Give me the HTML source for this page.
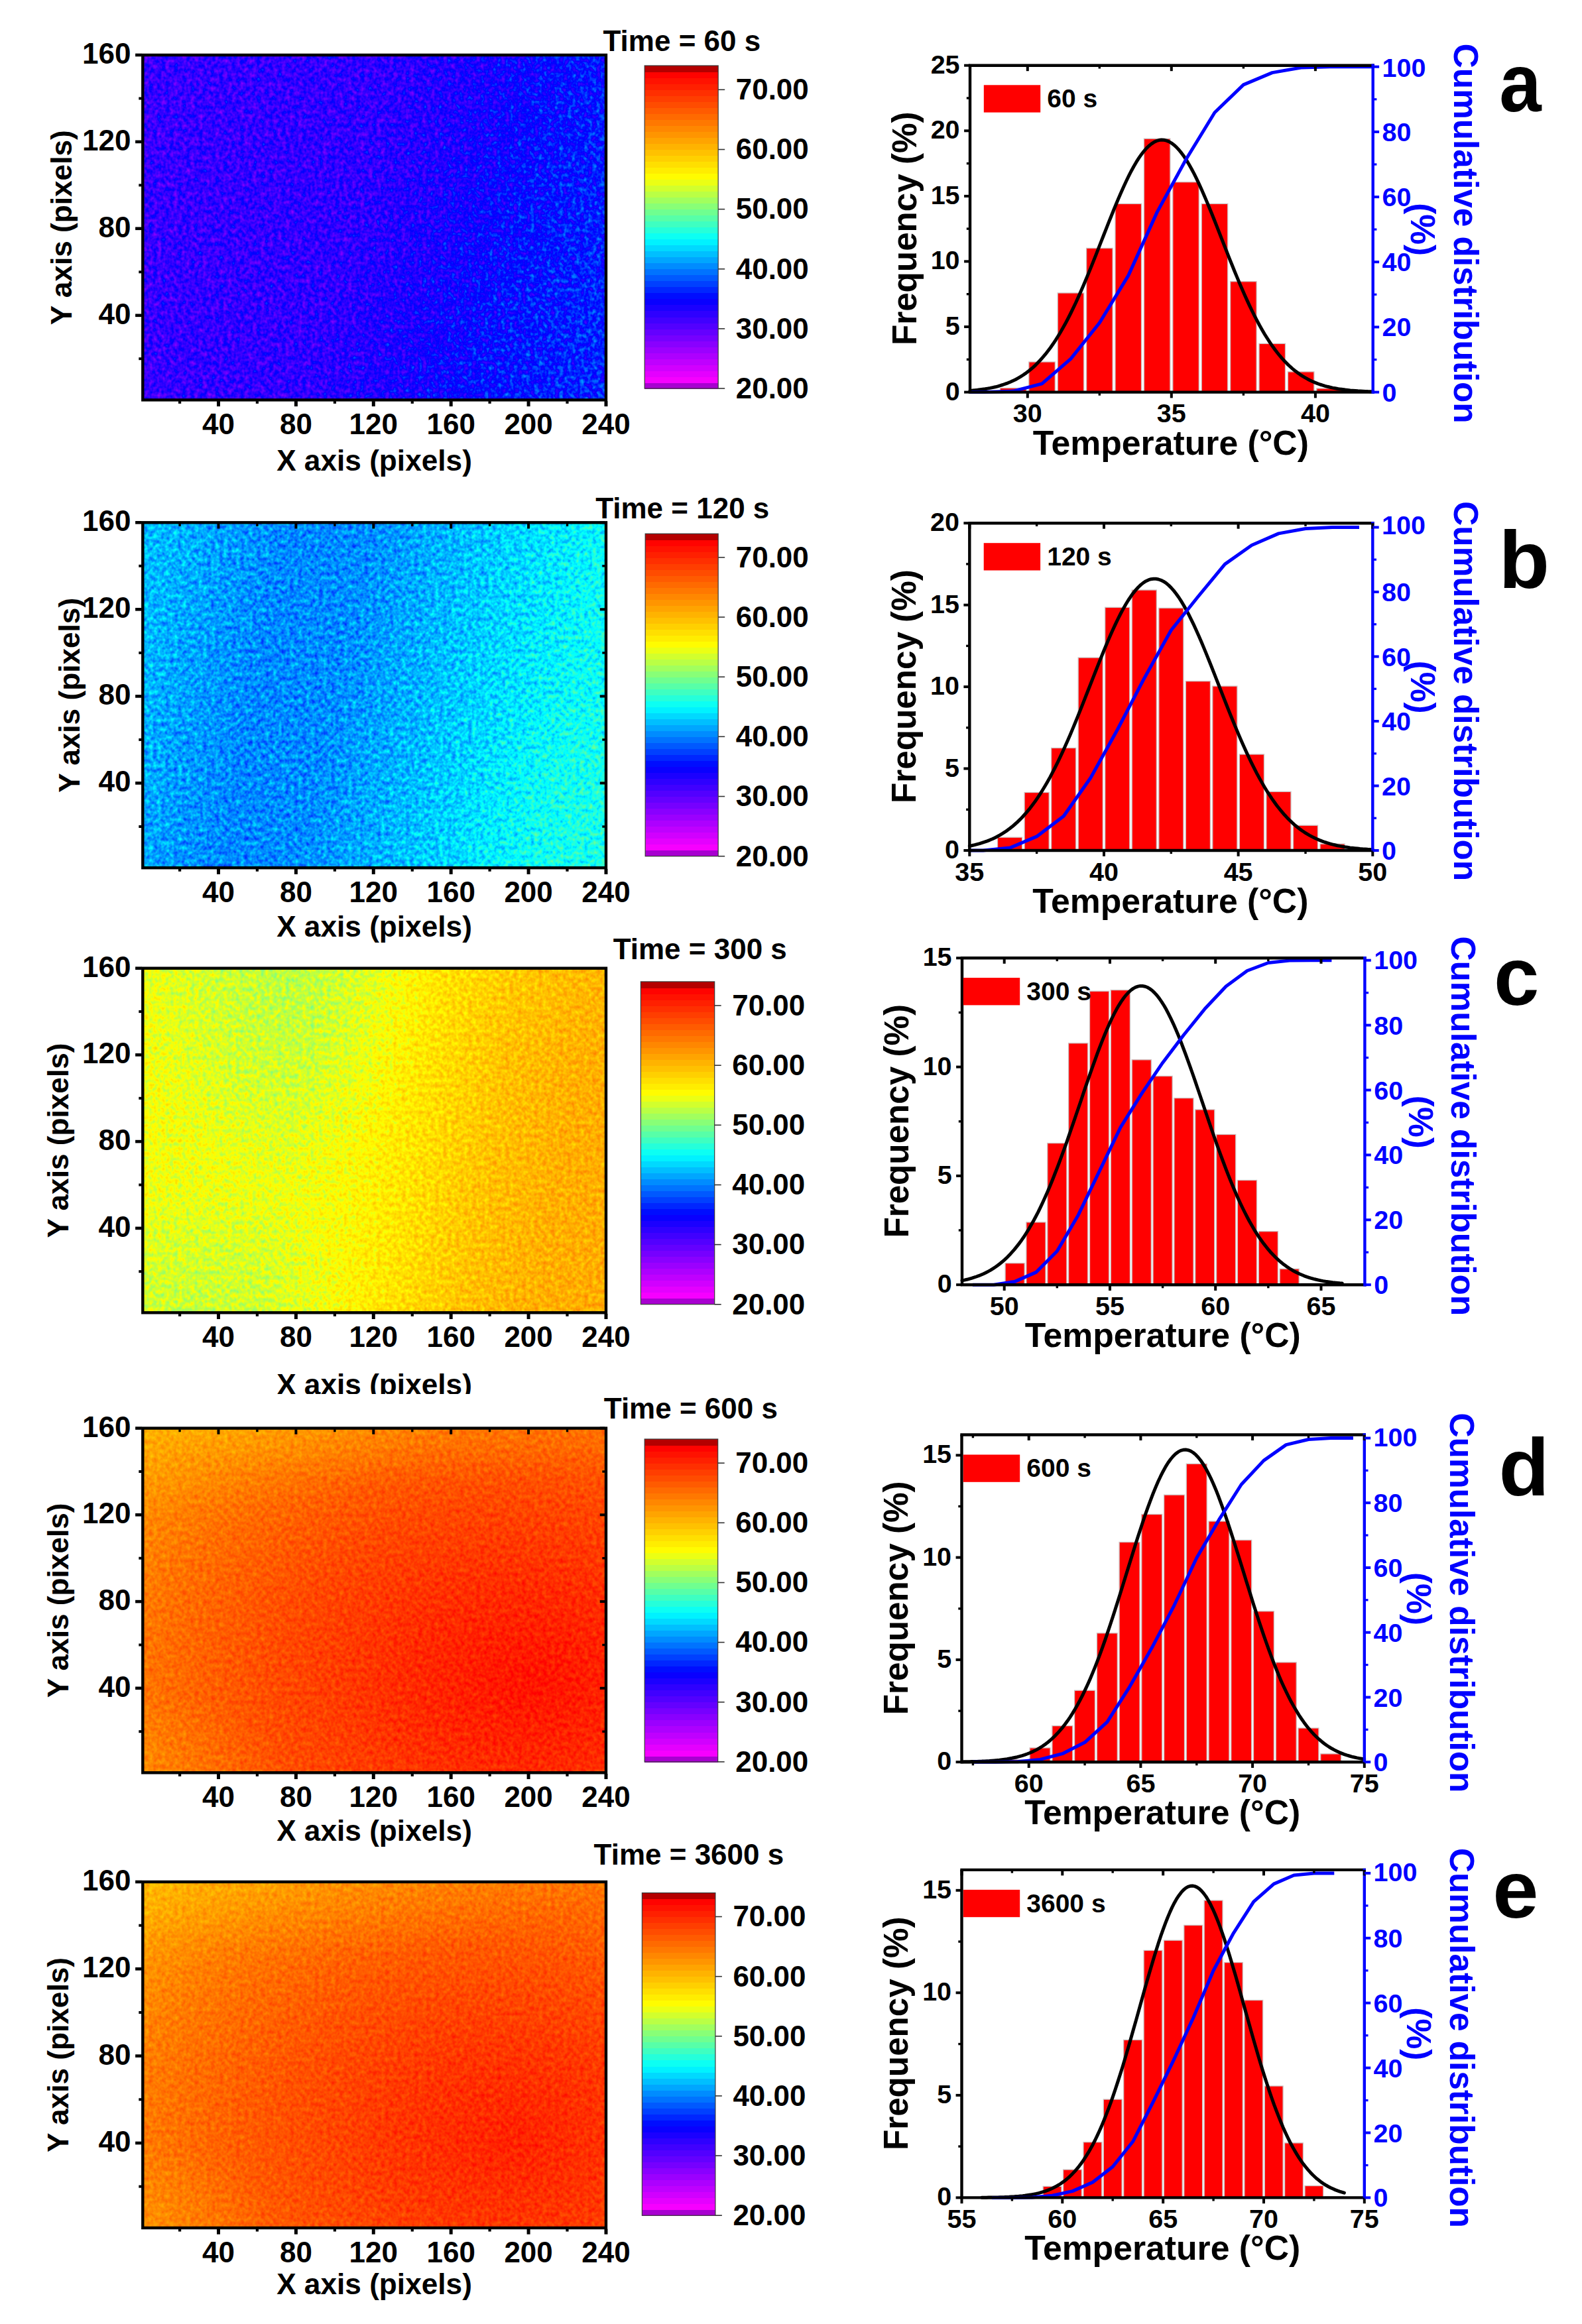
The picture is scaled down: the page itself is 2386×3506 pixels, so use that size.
<!DOCTYPE html>
<html lang="en"><head><meta charset="utf-8"><title>Temperature distribution maps and histograms</title>
<style>html,body{margin:0;padding:0;background:#fff}body{width:2386px;height:3506px;overflow:hidden}svg{display:block}text{font-family:'Liberation Sans', Arial, Helvetica, sans-serif;font-weight:700}</style></head><body>
<svg width="2386" height="3506" viewBox="0 0 2386 3506">
<rect width="2386" height="3506" fill="#fff"/>
<g id="heat0">
<defs>
<linearGradient id="hg0" x1="0" y1="0.400" x2="1" y2="0.600">
<stop offset="0%" stop-color="rgb(57,57,57)"/>
<stop offset="45%" stop-color="rgb(59,59,59)"/>
<stop offset="62%" stop-color="rgb(64,64,64)"/>
<stop offset="80%" stop-color="rgb(72,72,72)"/>
<stop offset="100%" stop-color="rgb(77,77,77)"/>
</linearGradient>
<filter id="hf0" x="215.3" y="83" width="698.7" height="520.4" filterUnits="userSpaceOnUse" color-interpolation-filters="sRGB">
<feTurbulence type="fractalNoise" baseFrequency="0.16 0.145" numOctaves="2" seed="3" result="n"/>
<feColorMatrix in="n" type="matrix" values="1 0 0 0 0  1 0 0 0 0  1 0 0 0 0  0 0 0 0 1" result="ng"/>
<feComposite in="SourceGraphic" in2="ng" operator="arithmetic" k1="0" k2="1" k3="0.2363" k4="-0.1181" result="v"/>
<feComponentTransfer in="v">
<feFuncR type="table" tableValues="1.000 1.000 1.000 0.965 0.929 0.894 0.859 0.820 0.784 0.749 0.714 0.678 0.643 0.608 0.573 0.537 0.502 0.463 0.427 0.392 0.357 0.322 0.286 0.251 0.216 0.180 0.141 0.106 0.071 0.035 0.000 0.000 0.000 0.000 0.000 0.000 0.000 0.000 0.000 0.000 0.000 0.000 0.000 0.000 0.000 0.000 0.000 0.000 0.000 0.000 0.000 0.047 0.098 0.145 0.196 0.243 0.290 0.341 0.388 0.435 0.486 0.533 0.584 0.631 0.678 0.729 0.776 0.824 0.875 0.922 0.973 1.000 1.000 1.000 1.000 1.000 1.000 1.000 1.000 1.000 1.000 1.000 1.000 1.000 1.000 1.000 1.000 1.000 1.000 1.000 1.000 1.000 1.000 1.000 1.000 1.000 1.000 1.000 1.000 1.000 1.000 1.000 1.000 1.000 1.000 1.000 1.000 1.000 1.000"/>
<feFuncG type="table" tableValues="0.000 0.000 0.000 0.000 0.000 0.000 0.000 0.000 0.000 0.000 0.000 0.000 0.000 0.000 0.000 0.000 0.000 0.000 0.000 0.000 0.000 0.000 0.000 0.000 0.000 0.000 0.000 0.000 0.000 0.000 0.000 0.051 0.102 0.149 0.200 0.251 0.298 0.349 0.400 0.451 0.502 0.549 0.600 0.651 0.698 0.749 0.800 0.851 0.902 0.949 1.000 1.000 1.000 1.000 1.000 1.000 1.000 1.000 1.000 1.000 1.000 1.000 1.000 1.000 1.000 1.000 1.000 1.000 1.000 1.000 1.000 0.988 0.961 0.929 0.902 0.875 0.843 0.816 0.788 0.757 0.729 0.702 0.671 0.643 0.616 0.584 0.557 0.529 0.502 0.471 0.443 0.416 0.384 0.357 0.329 0.298 0.271 0.243 0.212 0.184 0.157 0.125 0.098 0.071 0.039 0.012 0.000 0.000 0.000"/>
<feFuncB type="table" tableValues="1.000 1.000 1.000 1.000 1.000 1.000 1.000 1.000 1.000 1.000 1.000 1.000 1.000 1.000 1.000 1.000 1.000 1.000 1.000 1.000 1.000 1.000 1.000 1.000 1.000 1.000 1.000 1.000 1.000 1.000 1.000 1.000 1.000 1.000 1.000 1.000 1.000 1.000 1.000 1.000 1.000 1.000 1.000 1.000 1.000 1.000 1.000 1.000 1.000 1.000 1.000 0.953 0.902 0.855 0.804 0.757 0.710 0.659 0.612 0.565 0.514 0.467 0.416 0.369 0.322 0.271 0.224 0.176 0.125 0.078 0.027 0.000 0.000 0.000 0.000 0.000 0.000 0.000 0.000 0.000 0.000 0.000 0.000 0.000 0.000 0.000 0.000 0.000 0.000 0.000 0.000 0.000 0.000 0.000 0.000 0.000 0.000 0.000 0.000 0.000 0.000 0.000 0.000 0.000 0.000 0.000 0.000 0.000 0.000"/>
</feComponentTransfer>
</filter>
</defs>
<g filter="url(#hf0)">
<rect x="215.3" y="83" width="698.7" height="520.4" fill="url(#hg0)"/>
</g>
<rect x="215.3" y="83" width="698.7" height="520.4" fill="none" stroke="#000" stroke-width="4.4"/>
<line x1="271.1" y1="605.1" x2="271.1" y2="608.9" stroke="#000" stroke-width="4.2" stroke-linecap="butt"/>
<line x1="329.5" y1="605.1" x2="329.5" y2="613.1" stroke="#000" stroke-width="5" stroke-linecap="butt"/>
<line x1="387.9" y1="605.1" x2="387.9" y2="608.9" stroke="#000" stroke-width="4.2" stroke-linecap="butt"/>
<line x1="446.4" y1="605.1" x2="446.4" y2="613.1" stroke="#000" stroke-width="5" stroke-linecap="butt"/>
<line x1="504.9" y1="605.1" x2="504.9" y2="608.9" stroke="#000" stroke-width="4.2" stroke-linecap="butt"/>
<line x1="563.3" y1="605.1" x2="563.3" y2="613.1" stroke="#000" stroke-width="5" stroke-linecap="butt"/>
<line x1="621.8" y1="605.1" x2="621.8" y2="608.9" stroke="#000" stroke-width="4.2" stroke-linecap="butt"/>
<line x1="680.2" y1="605.1" x2="680.2" y2="613.1" stroke="#000" stroke-width="5" stroke-linecap="butt"/>
<line x1="738.6" y1="605.1" x2="738.6" y2="608.9" stroke="#000" stroke-width="4.2" stroke-linecap="butt"/>
<line x1="797.1" y1="605.1" x2="797.1" y2="613.1" stroke="#000" stroke-width="5" stroke-linecap="butt"/>
<line x1="855.5" y1="605.1" x2="855.5" y2="608.9" stroke="#000" stroke-width="4.2" stroke-linecap="butt"/>
<line x1="914" y1="605.1" x2="914" y2="613.1" stroke="#000" stroke-width="5" stroke-linecap="butt"/>
<line x1="213.6" y1="541.2" x2="209.3" y2="541.2" stroke="#000" stroke-width="4" stroke-linecap="butt"/>
<line x1="213.6" y1="475.8" x2="204.1" y2="475.8" stroke="#000" stroke-width="4.6" stroke-linecap="butt"/>
<line x1="213.6" y1="410.3" x2="209.3" y2="410.3" stroke="#000" stroke-width="4" stroke-linecap="butt"/>
<line x1="213.6" y1="344.8" x2="204.1" y2="344.8" stroke="#000" stroke-width="4.6" stroke-linecap="butt"/>
<line x1="213.6" y1="279.4" x2="209.3" y2="279.4" stroke="#000" stroke-width="4" stroke-linecap="butt"/>
<line x1="213.6" y1="213.9" x2="204.1" y2="213.9" stroke="#000" stroke-width="4.6" stroke-linecap="butt"/>
<line x1="213.6" y1="148.5" x2="209.3" y2="148.5" stroke="#000" stroke-width="4" stroke-linecap="butt"/>
<line x1="213.6" y1="83" x2="204.1" y2="83" stroke="#000" stroke-width="4.6" stroke-linecap="butt"/>
<text font-size="44" text-anchor="middle" fill="#000" x="329.5" y="654.9" >40</text>
<text font-size="44" text-anchor="middle" fill="#000" x="446.4" y="654.9" >80</text>
<text font-size="44" text-anchor="middle" fill="#000" x="563.3" y="654.9" >120</text>
<text font-size="44" text-anchor="middle" fill="#000" x="680.2" y="654.9" >160</text>
<text font-size="44" text-anchor="middle" fill="#000" x="797.1" y="654.9" >200</text>
<text font-size="44" text-anchor="middle" fill="#000" x="914" y="654.9" >240</text>
<text font-size="44" text-anchor="end" fill="#000" x="197.5" y="488.7" >40</text>
<text font-size="44" text-anchor="end" fill="#000" x="197.5" y="357.7" >80</text>
<text font-size="44" text-anchor="end" fill="#000" x="197.5" y="226.8" >120</text>
<text font-size="44" text-anchor="end" fill="#000" x="197.5" y="95.9" >160</text>
<text font-size="44.2" text-anchor="middle" fill="#000" x="564.5" y="710.2" >X axis (pixels)</text>
<text font-size="44.2" text-anchor="middle" fill="#000" x="108" y="343.2" transform="rotate(-90 108 343.2)" >Y axis (pixels)</text>
<text font-size="44" text-anchor="start" fill="#000" x="909.5" y="77.4" >Time = 60 s</text>
<g shape-rendering="crispEdges">
<rect x="972.2" y="577" width="111" height="9.6" fill="rgb(168,0,208)"/>
<rect x="972.2" y="568" width="111" height="9.6" fill="rgb(246,0,255)"/>
<rect x="972.2" y="559" width="111" height="9.6" fill="rgb(228,0,255)"/>
<rect x="972.2" y="550" width="111" height="9.6" fill="rgb(209,0,255)"/>
<rect x="972.2" y="541" width="111" height="9.6" fill="rgb(191,0,255)"/>
<rect x="972.2" y="532" width="111" height="9.6" fill="rgb(173,0,255)"/>
<rect x="972.2" y="522.9" width="111" height="9.6" fill="rgb(155,0,255)"/>
<rect x="972.2" y="513.9" width="111" height="9.6" fill="rgb(137,0,255)"/>
<rect x="972.2" y="504.9" width="111" height="9.6" fill="rgb(118,0,255)"/>
<rect x="972.2" y="495.9" width="111" height="9.6" fill="rgb(100,0,255)"/>
<rect x="972.2" y="486.9" width="111" height="9.6" fill="rgb(82,0,255)"/>
<rect x="972.2" y="477.9" width="111" height="9.6" fill="rgb(64,0,255)"/>
<rect x="972.2" y="468.9" width="111" height="9.6" fill="rgb(46,0,255)"/>
<rect x="972.2" y="459.8" width="111" height="9.6" fill="rgb(27,0,255)"/>
<rect x="972.2" y="450.8" width="111" height="9.6" fill="rgb(9,0,255)"/>
<rect x="972.2" y="441.8" width="111" height="9.6" fill="rgb(0,13,255)"/>
<rect x="972.2" y="432.8" width="111" height="9.6" fill="rgb(0,38,255)"/>
<rect x="972.2" y="423.8" width="111" height="9.6" fill="rgb(0,64,255)"/>
<rect x="972.2" y="414.8" width="111" height="9.6" fill="rgb(0,89,255)"/>
<rect x="972.2" y="405.8" width="111" height="9.6" fill="rgb(0,115,255)"/>
<rect x="972.2" y="396.7" width="111" height="9.6" fill="rgb(0,140,255)"/>
<rect x="972.2" y="387.7" width="111" height="9.6" fill="rgb(0,166,255)"/>
<rect x="972.2" y="378.7" width="111" height="9.6" fill="rgb(0,191,255)"/>
<rect x="972.2" y="369.7" width="111" height="9.6" fill="rgb(0,217,255)"/>
<rect x="972.2" y="360.7" width="111" height="9.6" fill="rgb(0,242,255)"/>
<rect x="972.2" y="351.7" width="111" height="9.6" fill="rgb(12,255,243)"/>
<rect x="972.2" y="342.6" width="111" height="9.6" fill="rgb(37,255,218)"/>
<rect x="972.2" y="333.6" width="111" height="9.6" fill="rgb(62,255,193)"/>
<rect x="972.2" y="324.6" width="111" height="9.6" fill="rgb(87,255,168)"/>
<rect x="972.2" y="315.6" width="111" height="9.6" fill="rgb(111,255,144)"/>
<rect x="972.2" y="306.6" width="111" height="9.6" fill="rgb(136,255,119)"/>
<rect x="972.2" y="297.6" width="111" height="9.6" fill="rgb(161,255,94)"/>
<rect x="972.2" y="288.6" width="111" height="9.6" fill="rgb(186,255,69)"/>
<rect x="972.2" y="279.5" width="111" height="9.6" fill="rgb(210,255,45)"/>
<rect x="972.2" y="270.5" width="111" height="9.6" fill="rgb(235,255,20)"/>
<rect x="972.2" y="261.5" width="111" height="9.6" fill="rgb(255,252,0)"/>
<rect x="972.2" y="252.5" width="111" height="9.6" fill="rgb(255,237,0)"/>
<rect x="972.2" y="243.5" width="111" height="9.6" fill="rgb(255,223,0)"/>
<rect x="972.2" y="234.5" width="111" height="9.6" fill="rgb(255,208,0)"/>
<rect x="972.2" y="225.5" width="111" height="9.6" fill="rgb(255,193,0)"/>
<rect x="972.2" y="216.4" width="111" height="9.6" fill="rgb(255,179,0)"/>
<rect x="972.2" y="207.4" width="111" height="9.6" fill="rgb(255,164,0)"/>
<rect x="972.2" y="198.4" width="111" height="9.6" fill="rgb(255,149,0)"/>
<rect x="972.2" y="189.4" width="111" height="9.6" fill="rgb(255,135,0)"/>
<rect x="972.2" y="180.4" width="111" height="9.6" fill="rgb(255,120,0)"/>
<rect x="972.2" y="171.4" width="111" height="9.6" fill="rgb(255,106,0)"/>
<rect x="972.2" y="162.3" width="111" height="9.6" fill="rgb(255,91,0)"/>
<rect x="972.2" y="153.3" width="111" height="9.6" fill="rgb(255,76,0)"/>
<rect x="972.2" y="144.3" width="111" height="9.6" fill="rgb(255,62,0)"/>
<rect x="972.2" y="135.3" width="111" height="9.6" fill="rgb(255,47,0)"/>
<rect x="972.2" y="126.3" width="111" height="9.6" fill="rgb(255,32,0)"/>
<rect x="972.2" y="117.3" width="111" height="9.6" fill="rgb(255,18,0)"/>
<rect x="972.2" y="108.3" width="111" height="9.6" fill="rgb(255,3,0)"/>
<rect x="972.2" y="99.2" width="111" height="9.6" fill="rgb(180,0,0)"/>
</g>
<rect x="972.2" y="99" width="111" height="487" fill="none" stroke="#3a3a3a" stroke-width="1.2"/>
<line x1="1083.2" y1="586" x2="1093.2" y2="586" stroke="#333" stroke-width="1.6" stroke-linecap="butt"/>
<text font-size="44" text-anchor="start" fill="#000" x="1109.7" y="600.8" >20.00</text>
<line x1="1083.2" y1="495.9" x2="1093.2" y2="495.9" stroke="#333" stroke-width="1.6" stroke-linecap="butt"/>
<text font-size="44" text-anchor="start" fill="#000" x="1109.7" y="510.7" >30.00</text>
<line x1="1083.2" y1="405.8" x2="1093.2" y2="405.8" stroke="#333" stroke-width="1.6" stroke-linecap="butt"/>
<text font-size="44" text-anchor="start" fill="#000" x="1109.7" y="420.6" >40.00</text>
<line x1="1083.2" y1="315.6" x2="1093.2" y2="315.6" stroke="#333" stroke-width="1.6" stroke-linecap="butt"/>
<text font-size="44" text-anchor="start" fill="#000" x="1109.7" y="330.4" >50.00</text>
<line x1="1083.2" y1="225.5" x2="1093.2" y2="225.5" stroke="#333" stroke-width="1.6" stroke-linecap="butt"/>
<text font-size="44" text-anchor="start" fill="#000" x="1109.7" y="240.3" >60.00</text>
<line x1="1083.2" y1="135.3" x2="1093.2" y2="135.3" stroke="#333" stroke-width="1.6" stroke-linecap="butt"/>
<text font-size="44" text-anchor="start" fill="#000" x="1109.7" y="150.1" >70.00</text>
</g>
<g id="heat1">
<defs>
<linearGradient id="hg1" x1="0" y1="0.420" x2="1" y2="0.580">
<stop offset="0%" stop-color="rgb(105,105,105)"/>
<stop offset="10%" stop-color="rgb(101,101,101)"/>
<stop offset="25%" stop-color="rgb(96,96,96)"/>
<stop offset="42%" stop-color="rgb(97,97,97)"/>
<stop offset="60%" stop-color="rgb(105,105,105)"/>
<stop offset="78%" stop-color="rgb(113,113,113)"/>
<stop offset="92%" stop-color="rgb(119,119,119)"/>
<stop offset="100%" stop-color="rgb(120,120,120)"/>
</linearGradient>
<filter id="hf1" x="215.3" y="788.3" width="698.7" height="520.9" filterUnits="userSpaceOnUse" color-interpolation-filters="sRGB">
<feTurbulence type="fractalNoise" baseFrequency="0.16 0.145" numOctaves="2" seed="11" result="n"/>
<feColorMatrix in="n" type="matrix" values="1 0 0 0 0  1 0 0 0 0  1 0 0 0 0  0 0 0 0 1" result="ng"/>
<feComposite in="SourceGraphic" in2="ng" operator="arithmetic" k1="0" k2="1" k3="0.1874" k4="-0.0937" result="v"/>
<feComponentTransfer in="v">
<feFuncR type="table" tableValues="1.000 1.000 1.000 0.965 0.929 0.894 0.859 0.820 0.784 0.749 0.714 0.678 0.643 0.608 0.573 0.537 0.502 0.463 0.427 0.392 0.357 0.322 0.286 0.251 0.216 0.180 0.141 0.106 0.071 0.035 0.000 0.000 0.000 0.000 0.000 0.000 0.000 0.000 0.000 0.000 0.000 0.000 0.000 0.000 0.000 0.000 0.000 0.000 0.000 0.000 0.000 0.047 0.098 0.145 0.196 0.243 0.290 0.341 0.388 0.435 0.486 0.533 0.584 0.631 0.678 0.729 0.776 0.824 0.875 0.922 0.973 1.000 1.000 1.000 1.000 1.000 1.000 1.000 1.000 1.000 1.000 1.000 1.000 1.000 1.000 1.000 1.000 1.000 1.000 1.000 1.000 1.000 1.000 1.000 1.000 1.000 1.000 1.000 1.000 1.000 1.000 1.000 1.000 1.000 1.000 1.000 1.000 1.000 1.000"/>
<feFuncG type="table" tableValues="0.000 0.000 0.000 0.000 0.000 0.000 0.000 0.000 0.000 0.000 0.000 0.000 0.000 0.000 0.000 0.000 0.000 0.000 0.000 0.000 0.000 0.000 0.000 0.000 0.000 0.000 0.000 0.000 0.000 0.000 0.000 0.051 0.102 0.149 0.200 0.251 0.298 0.349 0.400 0.451 0.502 0.549 0.600 0.651 0.698 0.749 0.800 0.851 0.902 0.949 1.000 1.000 1.000 1.000 1.000 1.000 1.000 1.000 1.000 1.000 1.000 1.000 1.000 1.000 1.000 1.000 1.000 1.000 1.000 1.000 1.000 0.988 0.961 0.929 0.902 0.875 0.843 0.816 0.788 0.757 0.729 0.702 0.671 0.643 0.616 0.584 0.557 0.529 0.502 0.471 0.443 0.416 0.384 0.357 0.329 0.298 0.271 0.243 0.212 0.184 0.157 0.125 0.098 0.071 0.039 0.012 0.000 0.000 0.000"/>
<feFuncB type="table" tableValues="1.000 1.000 1.000 1.000 1.000 1.000 1.000 1.000 1.000 1.000 1.000 1.000 1.000 1.000 1.000 1.000 1.000 1.000 1.000 1.000 1.000 1.000 1.000 1.000 1.000 1.000 1.000 1.000 1.000 1.000 1.000 1.000 1.000 1.000 1.000 1.000 1.000 1.000 1.000 1.000 1.000 1.000 1.000 1.000 1.000 1.000 1.000 1.000 1.000 1.000 1.000 0.953 0.902 0.855 0.804 0.757 0.710 0.659 0.612 0.565 0.514 0.467 0.416 0.369 0.322 0.271 0.224 0.176 0.125 0.078 0.027 0.000 0.000 0.000 0.000 0.000 0.000 0.000 0.000 0.000 0.000 0.000 0.000 0.000 0.000 0.000 0.000 0.000 0.000 0.000 0.000 0.000 0.000 0.000 0.000 0.000 0.000 0.000 0.000 0.000 0.000 0.000 0.000 0.000 0.000 0.000 0.000 0.000 0.000"/>
</feComponentTransfer>
</filter>
</defs>
<g filter="url(#hf1)">
<rect x="215.3" y="788.3" width="698.7" height="520.9" fill="url(#hg1)"/>
<radialGradient id="ho1_0"><stop offset="0" stop-color="#fff" stop-opacity="0.02"/><stop offset="0.55" stop-color="#fff" stop-opacity="0.011000000000000001"/><stop offset="1" stop-color="#fff" stop-opacity="0"/></radialGradient>
<clipPath id="ho1_0c"><rect x="215.3" y="788.3" width="698.7" height="520.9"/></clipPath>
<ellipse clip-path="url(#ho1_0c)" cx="879.1" cy="1231.1" rx="209.6" ry="208.4" fill="url(#ho1_0)"/>
</g>
<rect x="215.3" y="788.3" width="698.7" height="520.9" fill="none" stroke="#000" stroke-width="4.4"/>
<line x1="271.1" y1="1310.9" x2="271.1" y2="1314.7" stroke="#000" stroke-width="4.2" stroke-linecap="butt"/>
<line x1="271.1" y1="790" x2="271.1" y2="794" stroke="#000" stroke-width="3.4" stroke-linecap="butt"/>
<line x1="329.5" y1="1310.9" x2="329.5" y2="1318.9" stroke="#000" stroke-width="5" stroke-linecap="butt"/>
<line x1="329.5" y1="790" x2="329.5" y2="797.5" stroke="#000" stroke-width="4" stroke-linecap="butt"/>
<line x1="387.9" y1="1310.9" x2="387.9" y2="1314.7" stroke="#000" stroke-width="4.2" stroke-linecap="butt"/>
<line x1="387.9" y1="790" x2="387.9" y2="794" stroke="#000" stroke-width="3.4" stroke-linecap="butt"/>
<line x1="446.4" y1="1310.9" x2="446.4" y2="1318.9" stroke="#000" stroke-width="5" stroke-linecap="butt"/>
<line x1="446.4" y1="790" x2="446.4" y2="797.5" stroke="#000" stroke-width="4" stroke-linecap="butt"/>
<line x1="504.9" y1="1310.9" x2="504.9" y2="1314.7" stroke="#000" stroke-width="4.2" stroke-linecap="butt"/>
<line x1="504.9" y1="790" x2="504.9" y2="794" stroke="#000" stroke-width="3.4" stroke-linecap="butt"/>
<line x1="563.3" y1="1310.9" x2="563.3" y2="1318.9" stroke="#000" stroke-width="5" stroke-linecap="butt"/>
<line x1="563.3" y1="790" x2="563.3" y2="797.5" stroke="#000" stroke-width="4" stroke-linecap="butt"/>
<line x1="621.8" y1="1310.9" x2="621.8" y2="1314.7" stroke="#000" stroke-width="4.2" stroke-linecap="butt"/>
<line x1="621.8" y1="790" x2="621.8" y2="794" stroke="#000" stroke-width="3.4" stroke-linecap="butt"/>
<line x1="680.2" y1="1310.9" x2="680.2" y2="1318.9" stroke="#000" stroke-width="5" stroke-linecap="butt"/>
<line x1="680.2" y1="790" x2="680.2" y2="797.5" stroke="#000" stroke-width="4" stroke-linecap="butt"/>
<line x1="738.6" y1="1310.9" x2="738.6" y2="1314.7" stroke="#000" stroke-width="4.2" stroke-linecap="butt"/>
<line x1="738.6" y1="790" x2="738.6" y2="794" stroke="#000" stroke-width="3.4" stroke-linecap="butt"/>
<line x1="797.1" y1="1310.9" x2="797.1" y2="1318.9" stroke="#000" stroke-width="5" stroke-linecap="butt"/>
<line x1="797.1" y1="790" x2="797.1" y2="797.5" stroke="#000" stroke-width="4" stroke-linecap="butt"/>
<line x1="855.5" y1="1310.9" x2="855.5" y2="1314.7" stroke="#000" stroke-width="4.2" stroke-linecap="butt"/>
<line x1="855.5" y1="790" x2="855.5" y2="794" stroke="#000" stroke-width="3.4" stroke-linecap="butt"/>
<line x1="914" y1="1310.9" x2="914" y2="1318.9" stroke="#000" stroke-width="5" stroke-linecap="butt"/>
<line x1="914" y1="790" x2="914" y2="797.5" stroke="#000" stroke-width="4" stroke-linecap="butt"/>
<line x1="213.6" y1="1247" x2="209.3" y2="1247" stroke="#000" stroke-width="4" stroke-linecap="butt"/>
<line x1="912.3" y1="1247" x2="908.3" y2="1247" stroke="#000" stroke-width="3.4" stroke-linecap="butt"/>
<line x1="213.6" y1="1181.4" x2="204.1" y2="1181.4" stroke="#000" stroke-width="4.6" stroke-linecap="butt"/>
<line x1="912.3" y1="1181.4" x2="904.8" y2="1181.4" stroke="#000" stroke-width="4" stroke-linecap="butt"/>
<line x1="213.6" y1="1115.9" x2="209.3" y2="1115.9" stroke="#000" stroke-width="4" stroke-linecap="butt"/>
<line x1="912.3" y1="1115.9" x2="908.3" y2="1115.9" stroke="#000" stroke-width="3.4" stroke-linecap="butt"/>
<line x1="213.6" y1="1050.4" x2="204.1" y2="1050.4" stroke="#000" stroke-width="4.6" stroke-linecap="butt"/>
<line x1="912.3" y1="1050.4" x2="904.8" y2="1050.4" stroke="#000" stroke-width="4" stroke-linecap="butt"/>
<line x1="213.6" y1="984.9" x2="209.3" y2="984.9" stroke="#000" stroke-width="4" stroke-linecap="butt"/>
<line x1="912.3" y1="984.9" x2="908.3" y2="984.9" stroke="#000" stroke-width="3.4" stroke-linecap="butt"/>
<line x1="213.6" y1="919.3" x2="204.1" y2="919.3" stroke="#000" stroke-width="4.6" stroke-linecap="butt"/>
<line x1="912.3" y1="919.3" x2="904.8" y2="919.3" stroke="#000" stroke-width="4" stroke-linecap="butt"/>
<line x1="213.6" y1="853.8" x2="209.3" y2="853.8" stroke="#000" stroke-width="4" stroke-linecap="butt"/>
<line x1="912.3" y1="853.8" x2="908.3" y2="853.8" stroke="#000" stroke-width="3.4" stroke-linecap="butt"/>
<line x1="213.6" y1="788.3" x2="204.1" y2="788.3" stroke="#000" stroke-width="4.6" stroke-linecap="butt"/>
<line x1="912.3" y1="788.3" x2="904.8" y2="788.3" stroke="#000" stroke-width="4" stroke-linecap="butt"/>
<text font-size="44" text-anchor="middle" fill="#000" x="329.5" y="1360.7" >40</text>
<text font-size="44" text-anchor="middle" fill="#000" x="446.4" y="1360.7" >80</text>
<text font-size="44" text-anchor="middle" fill="#000" x="563.3" y="1360.7" >120</text>
<text font-size="44" text-anchor="middle" fill="#000" x="680.2" y="1360.7" >160</text>
<text font-size="44" text-anchor="middle" fill="#000" x="797.1" y="1360.7" >200</text>
<text font-size="44" text-anchor="middle" fill="#000" x="914" y="1360.7" >240</text>
<text font-size="44" text-anchor="end" fill="#000" x="197.5" y="1194.3" >40</text>
<text font-size="44" text-anchor="end" fill="#000" x="197.5" y="1063.3" >80</text>
<text font-size="44" text-anchor="end" fill="#000" x="197.5" y="932.2" >120</text>
<text font-size="44" text-anchor="end" fill="#000" x="197.5" y="801.2" >160</text>
<text font-size="44.2" text-anchor="middle" fill="#000" x="564.5" y="1413" >X axis (pixels)</text>
<text font-size="44.2" text-anchor="middle" fill="#000" x="120.5" y="1048.8" transform="rotate(-90 120.5 1048.8)" >Y axis (pixels)</text>
<text font-size="44" text-anchor="start" fill="#000" x="898.2" y="782" >Time = 120 s</text>
<g shape-rendering="crispEdges">
<rect x="973.2" y="1282.6" width="110" height="9.6" fill="rgb(168,0,208)"/>
<rect x="973.2" y="1273.6" width="110" height="9.6" fill="rgb(246,0,255)"/>
<rect x="973.2" y="1264.6" width="110" height="9.6" fill="rgb(228,0,255)"/>
<rect x="973.2" y="1255.6" width="110" height="9.6" fill="rgb(209,0,255)"/>
<rect x="973.2" y="1246.6" width="110" height="9.6" fill="rgb(191,0,255)"/>
<rect x="973.2" y="1237.6" width="110" height="9.6" fill="rgb(173,0,255)"/>
<rect x="973.2" y="1228.5" width="110" height="9.6" fill="rgb(155,0,255)"/>
<rect x="973.2" y="1219.5" width="110" height="9.6" fill="rgb(137,0,255)"/>
<rect x="973.2" y="1210.5" width="110" height="9.6" fill="rgb(118,0,255)"/>
<rect x="973.2" y="1201.5" width="110" height="9.6" fill="rgb(100,0,255)"/>
<rect x="973.2" y="1192.5" width="110" height="9.6" fill="rgb(82,0,255)"/>
<rect x="973.2" y="1183.5" width="110" height="9.6" fill="rgb(64,0,255)"/>
<rect x="973.2" y="1174.5" width="110" height="9.6" fill="rgb(46,0,255)"/>
<rect x="973.2" y="1165.4" width="110" height="9.6" fill="rgb(27,0,255)"/>
<rect x="973.2" y="1156.4" width="110" height="9.6" fill="rgb(9,0,255)"/>
<rect x="973.2" y="1147.4" width="110" height="9.6" fill="rgb(0,13,255)"/>
<rect x="973.2" y="1138.4" width="110" height="9.6" fill="rgb(0,38,255)"/>
<rect x="973.2" y="1129.4" width="110" height="9.6" fill="rgb(0,64,255)"/>
<rect x="973.2" y="1120.4" width="110" height="9.6" fill="rgb(0,89,255)"/>
<rect x="973.2" y="1111.3" width="110" height="9.6" fill="rgb(0,115,255)"/>
<rect x="973.2" y="1102.3" width="110" height="9.6" fill="rgb(0,140,255)"/>
<rect x="973.2" y="1093.3" width="110" height="9.6" fill="rgb(0,166,255)"/>
<rect x="973.2" y="1084.3" width="110" height="9.6" fill="rgb(0,191,255)"/>
<rect x="973.2" y="1075.3" width="110" height="9.6" fill="rgb(0,217,255)"/>
<rect x="973.2" y="1066.3" width="110" height="9.6" fill="rgb(0,242,255)"/>
<rect x="973.2" y="1057.3" width="110" height="9.6" fill="rgb(12,255,243)"/>
<rect x="973.2" y="1048.2" width="110" height="9.6" fill="rgb(37,255,218)"/>
<rect x="973.2" y="1039.2" width="110" height="9.6" fill="rgb(62,255,193)"/>
<rect x="973.2" y="1030.2" width="110" height="9.6" fill="rgb(87,255,168)"/>
<rect x="973.2" y="1021.2" width="110" height="9.6" fill="rgb(111,255,144)"/>
<rect x="973.2" y="1012.2" width="110" height="9.6" fill="rgb(136,255,119)"/>
<rect x="973.2" y="1003.2" width="110" height="9.6" fill="rgb(161,255,94)"/>
<rect x="973.2" y="994.2" width="110" height="9.6" fill="rgb(186,255,69)"/>
<rect x="973.2" y="985.1" width="110" height="9.6" fill="rgb(210,255,45)"/>
<rect x="973.2" y="976.1" width="110" height="9.6" fill="rgb(235,255,20)"/>
<rect x="973.2" y="967.1" width="110" height="9.6" fill="rgb(255,252,0)"/>
<rect x="973.2" y="958.1" width="110" height="9.6" fill="rgb(255,237,0)"/>
<rect x="973.2" y="949.1" width="110" height="9.6" fill="rgb(255,223,0)"/>
<rect x="973.2" y="940.1" width="110" height="9.6" fill="rgb(255,208,0)"/>
<rect x="973.2" y="931" width="110" height="9.6" fill="rgb(255,193,0)"/>
<rect x="973.2" y="922" width="110" height="9.6" fill="rgb(255,179,0)"/>
<rect x="973.2" y="913" width="110" height="9.6" fill="rgb(255,164,0)"/>
<rect x="973.2" y="904" width="110" height="9.6" fill="rgb(255,149,0)"/>
<rect x="973.2" y="895" width="110" height="9.6" fill="rgb(255,135,0)"/>
<rect x="973.2" y="886" width="110" height="9.6" fill="rgb(255,120,0)"/>
<rect x="973.2" y="877" width="110" height="9.6" fill="rgb(255,106,0)"/>
<rect x="973.2" y="867.9" width="110" height="9.6" fill="rgb(255,91,0)"/>
<rect x="973.2" y="858.9" width="110" height="9.6" fill="rgb(255,76,0)"/>
<rect x="973.2" y="849.9" width="110" height="9.6" fill="rgb(255,62,0)"/>
<rect x="973.2" y="840.9" width="110" height="9.6" fill="rgb(255,47,0)"/>
<rect x="973.2" y="831.9" width="110" height="9.6" fill="rgb(255,32,0)"/>
<rect x="973.2" y="822.9" width="110" height="9.6" fill="rgb(255,18,0)"/>
<rect x="973.2" y="813.9" width="110" height="9.6" fill="rgb(255,3,0)"/>
<rect x="973.2" y="805.2" width="110" height="9.3" fill="rgb(180,0,0)"/>
</g>
<rect x="973.2" y="805.2" width="110" height="486.5" fill="none" stroke="#3a3a3a" stroke-width="1.2"/>
<line x1="1083.2" y1="1291.7" x2="1093.2" y2="1291.7" stroke="#333" stroke-width="1.6" stroke-linecap="butt"/>
<text font-size="44" text-anchor="start" fill="#000" x="1109.7" y="1306.5" >20.00</text>
<line x1="1083.2" y1="1201.5" x2="1093.2" y2="1201.5" stroke="#333" stroke-width="1.6" stroke-linecap="butt"/>
<text font-size="44" text-anchor="start" fill="#000" x="1109.7" y="1216.3" >30.00</text>
<line x1="1083.2" y1="1111.3" x2="1093.2" y2="1111.3" stroke="#333" stroke-width="1.6" stroke-linecap="butt"/>
<text font-size="44" text-anchor="start" fill="#000" x="1109.7" y="1126.1" >40.00</text>
<line x1="1083.2" y1="1021.2" x2="1093.2" y2="1021.2" stroke="#333" stroke-width="1.6" stroke-linecap="butt"/>
<text font-size="44" text-anchor="start" fill="#000" x="1109.7" y="1036" >50.00</text>
<line x1="1083.2" y1="931" x2="1093.2" y2="931" stroke="#333" stroke-width="1.6" stroke-linecap="butt"/>
<text font-size="44" text-anchor="start" fill="#000" x="1109.7" y="945.8" >60.00</text>
<line x1="1083.2" y1="840.9" x2="1093.2" y2="840.9" stroke="#333" stroke-width="1.6" stroke-linecap="butt"/>
<text font-size="44" text-anchor="start" fill="#000" x="1109.7" y="855.7" >70.00</text>
</g>
<g id="heat2">
<defs>
<linearGradient id="hg2" x1="0" y1="0.440" x2="1" y2="0.560">
<stop offset="0%" stop-color="rgb(165,165,165)"/>
<stop offset="15%" stop-color="rgb(164,164,164)"/>
<stop offset="32%" stop-color="rgb(163,163,163)"/>
<stop offset="45%" stop-color="rgb(167,167,167)"/>
<stop offset="60%" stop-color="rgb(176,176,176)"/>
<stop offset="75%" stop-color="rgb(186,186,186)"/>
<stop offset="90%" stop-color="rgb(192,192,192)"/>
<stop offset="100%" stop-color="rgb(193,193,193)"/>
</linearGradient>
<filter id="hf2" x="215.3" y="1460.7" width="698.7" height="519.6" filterUnits="userSpaceOnUse" color-interpolation-filters="sRGB">
<feTurbulence type="fractalNoise" baseFrequency="0.16 0.145" numOctaves="2" seed="23" result="n"/>
<feColorMatrix in="n" type="matrix" values="1 0 0 0 0  1 0 0 0 0  1 0 0 0 0  0 0 0 0 1" result="ng"/>
<feComposite in="SourceGraphic" in2="ng" operator="arithmetic" k1="0" k2="1" k3="0.1548" k4="-0.0774" result="v"/>
<feComponentTransfer in="v">
<feFuncR type="table" tableValues="1.000 1.000 1.000 0.965 0.929 0.894 0.859 0.820 0.784 0.749 0.714 0.678 0.643 0.608 0.573 0.537 0.502 0.463 0.427 0.392 0.357 0.322 0.286 0.251 0.216 0.180 0.141 0.106 0.071 0.035 0.000 0.000 0.000 0.000 0.000 0.000 0.000 0.000 0.000 0.000 0.000 0.000 0.000 0.000 0.000 0.000 0.000 0.000 0.000 0.000 0.000 0.047 0.098 0.145 0.196 0.243 0.290 0.341 0.388 0.435 0.486 0.533 0.584 0.631 0.678 0.729 0.776 0.824 0.875 0.922 0.973 1.000 1.000 1.000 1.000 1.000 1.000 1.000 1.000 1.000 1.000 1.000 1.000 1.000 1.000 1.000 1.000 1.000 1.000 1.000 1.000 1.000 1.000 1.000 1.000 1.000 1.000 1.000 1.000 1.000 1.000 1.000 1.000 1.000 1.000 1.000 1.000 1.000 1.000"/>
<feFuncG type="table" tableValues="0.000 0.000 0.000 0.000 0.000 0.000 0.000 0.000 0.000 0.000 0.000 0.000 0.000 0.000 0.000 0.000 0.000 0.000 0.000 0.000 0.000 0.000 0.000 0.000 0.000 0.000 0.000 0.000 0.000 0.000 0.000 0.051 0.102 0.149 0.200 0.251 0.298 0.349 0.400 0.451 0.502 0.549 0.600 0.651 0.698 0.749 0.800 0.851 0.902 0.949 1.000 1.000 1.000 1.000 1.000 1.000 1.000 1.000 1.000 1.000 1.000 1.000 1.000 1.000 1.000 1.000 1.000 1.000 1.000 1.000 1.000 0.988 0.961 0.929 0.902 0.875 0.843 0.816 0.788 0.757 0.729 0.702 0.671 0.643 0.616 0.584 0.557 0.529 0.502 0.471 0.443 0.416 0.384 0.357 0.329 0.298 0.271 0.243 0.212 0.184 0.157 0.125 0.098 0.071 0.039 0.012 0.000 0.000 0.000"/>
<feFuncB type="table" tableValues="1.000 1.000 1.000 1.000 1.000 1.000 1.000 1.000 1.000 1.000 1.000 1.000 1.000 1.000 1.000 1.000 1.000 1.000 1.000 1.000 1.000 1.000 1.000 1.000 1.000 1.000 1.000 1.000 1.000 1.000 1.000 1.000 1.000 1.000 1.000 1.000 1.000 1.000 1.000 1.000 1.000 1.000 1.000 1.000 1.000 1.000 1.000 1.000 1.000 1.000 1.000 0.953 0.902 0.855 0.804 0.757 0.710 0.659 0.612 0.565 0.514 0.467 0.416 0.369 0.322 0.271 0.224 0.176 0.125 0.078 0.027 0.000 0.000 0.000 0.000 0.000 0.000 0.000 0.000 0.000 0.000 0.000 0.000 0.000 0.000 0.000 0.000 0.000 0.000 0.000 0.000 0.000 0.000 0.000 0.000 0.000 0.000 0.000 0.000 0.000 0.000 0.000 0.000 0.000 0.000 0.000 0.000 0.000 0.000"/>
</feComponentTransfer>
</filter>
</defs>
<g filter="url(#hf2)">
<rect x="215.3" y="1460.7" width="698.7" height="519.6" fill="url(#hg2)"/>
<radialGradient id="ho2_0"><stop offset="0" stop-color="#000" stop-opacity="0.06"/><stop offset="0.55" stop-color="#000" stop-opacity="0.033"/><stop offset="1" stop-color="#000" stop-opacity="0"/></radialGradient>
<clipPath id="ho2_0c"><rect x="215.3" y="1460.7" width="698.7" height="519.6"/></clipPath>
<ellipse clip-path="url(#ho2_0c)" cx="424.9" cy="1460.7" rx="237.6" ry="311.8" fill="url(#ho2_0)"/>
<radialGradient id="ho2_1"><stop offset="0" stop-color="#000" stop-opacity="0.05"/><stop offset="0.55" stop-color="#000" stop-opacity="0.027500000000000004"/><stop offset="1" stop-color="#000" stop-opacity="0"/></radialGradient>
<clipPath id="ho2_1c"><rect x="215.3" y="1460.7" width="698.7" height="519.6"/></clipPath>
<ellipse clip-path="url(#ho2_1c)" cx="271.2" cy="1980.3" rx="279.5" ry="197.4" fill="url(#ho2_1)"/>
<radialGradient id="ho2_2"><stop offset="0" stop-color="#000" stop-opacity="0.015"/><stop offset="0.55" stop-color="#000" stop-opacity="0.00825"/><stop offset="1" stop-color="#000" stop-opacity="0"/></radialGradient>
<clipPath id="ho2_2c"><rect x="215.3" y="1460.7" width="698.7" height="519.6"/></clipPath>
<ellipse clip-path="url(#ho2_2c)" cx="879.1" cy="1460.7" rx="209.6" ry="155.9" fill="url(#ho2_2)"/>
</g>
<rect x="215.3" y="1460.7" width="698.7" height="519.6" fill="none" stroke="#000" stroke-width="4.4"/>
<line x1="271.1" y1="1982" x2="271.1" y2="1985.8" stroke="#000" stroke-width="4.2" stroke-linecap="butt"/>
<line x1="329.5" y1="1982" x2="329.5" y2="1990" stroke="#000" stroke-width="5" stroke-linecap="butt"/>
<line x1="387.9" y1="1982" x2="387.9" y2="1985.8" stroke="#000" stroke-width="4.2" stroke-linecap="butt"/>
<line x1="446.4" y1="1982" x2="446.4" y2="1990" stroke="#000" stroke-width="5" stroke-linecap="butt"/>
<line x1="504.9" y1="1982" x2="504.9" y2="1985.8" stroke="#000" stroke-width="4.2" stroke-linecap="butt"/>
<line x1="563.3" y1="1982" x2="563.3" y2="1990" stroke="#000" stroke-width="5" stroke-linecap="butt"/>
<line x1="621.8" y1="1982" x2="621.8" y2="1985.8" stroke="#000" stroke-width="4.2" stroke-linecap="butt"/>
<line x1="680.2" y1="1982" x2="680.2" y2="1990" stroke="#000" stroke-width="5" stroke-linecap="butt"/>
<line x1="738.6" y1="1982" x2="738.6" y2="1985.8" stroke="#000" stroke-width="4.2" stroke-linecap="butt"/>
<line x1="797.1" y1="1982" x2="797.1" y2="1990" stroke="#000" stroke-width="5" stroke-linecap="butt"/>
<line x1="855.5" y1="1982" x2="855.5" y2="1985.8" stroke="#000" stroke-width="4.2" stroke-linecap="butt"/>
<line x1="914" y1="1982" x2="914" y2="1990" stroke="#000" stroke-width="5" stroke-linecap="butt"/>
<line x1="213.6" y1="1918.2" x2="209.3" y2="1918.2" stroke="#000" stroke-width="4" stroke-linecap="butt"/>
<line x1="213.6" y1="1852.9" x2="204.1" y2="1852.9" stroke="#000" stroke-width="4.6" stroke-linecap="butt"/>
<line x1="213.6" y1="1787.5" x2="209.3" y2="1787.5" stroke="#000" stroke-width="4" stroke-linecap="butt"/>
<line x1="213.6" y1="1722.1" x2="204.1" y2="1722.1" stroke="#000" stroke-width="4.6" stroke-linecap="butt"/>
<line x1="213.6" y1="1656.8" x2="209.3" y2="1656.8" stroke="#000" stroke-width="4" stroke-linecap="butt"/>
<line x1="213.6" y1="1591.4" x2="204.1" y2="1591.4" stroke="#000" stroke-width="4.6" stroke-linecap="butt"/>
<line x1="213.6" y1="1526.1" x2="209.3" y2="1526.1" stroke="#000" stroke-width="4" stroke-linecap="butt"/>
<line x1="213.6" y1="1460.7" x2="204.1" y2="1460.7" stroke="#000" stroke-width="4.6" stroke-linecap="butt"/>
<text font-size="44" text-anchor="middle" fill="#000" x="329.5" y="2031.8" >40</text>
<text font-size="44" text-anchor="middle" fill="#000" x="446.4" y="2031.8" >80</text>
<text font-size="44" text-anchor="middle" fill="#000" x="563.3" y="2031.8" >120</text>
<text font-size="44" text-anchor="middle" fill="#000" x="680.2" y="2031.8" >160</text>
<text font-size="44" text-anchor="middle" fill="#000" x="797.1" y="2031.8" >200</text>
<text font-size="44" text-anchor="middle" fill="#000" x="914" y="2031.8" >240</text>
<text font-size="44" text-anchor="end" fill="#000" x="197.5" y="1865.8" >40</text>
<text font-size="44" text-anchor="end" fill="#000" x="197.5" y="1735" >80</text>
<text font-size="44" text-anchor="end" fill="#000" x="197.5" y="1604.3" >120</text>
<text font-size="44" text-anchor="end" fill="#000" x="197.5" y="1473.6" >160</text>
<clipPath id="hc2"><rect x="0" y="0" width="2386" height="2103"/></clipPath>
<g clip-path="url(#hc2)">
<text font-size="44.2" text-anchor="middle" fill="#000" x="564.5" y="2104.2" >X axis (pixels)</text>
</g>
<text font-size="44.2" text-anchor="middle" fill="#000" x="103" y="1720.5" transform="rotate(-90 103 1720.5)" >Y axis (pixels)</text>
<text font-size="44" text-anchor="start" fill="#000" x="924.7" y="1446.8" >Time = 300 s</text>
<g shape-rendering="crispEdges">
<rect x="966.4" y="1958.7" width="111.3" height="9.6" fill="rgb(168,0,208)"/>
<rect x="966.4" y="1949.7" width="111.3" height="9.6" fill="rgb(246,0,255)"/>
<rect x="966.4" y="1940.7" width="111.3" height="9.6" fill="rgb(228,0,255)"/>
<rect x="966.4" y="1931.7" width="111.3" height="9.6" fill="rgb(209,0,255)"/>
<rect x="966.4" y="1922.7" width="111.3" height="9.6" fill="rgb(191,0,255)"/>
<rect x="966.4" y="1913.7" width="111.3" height="9.6" fill="rgb(173,0,255)"/>
<rect x="966.4" y="1904.6" width="111.3" height="9.6" fill="rgb(155,0,255)"/>
<rect x="966.4" y="1895.6" width="111.3" height="9.6" fill="rgb(137,0,255)"/>
<rect x="966.4" y="1886.6" width="111.3" height="9.6" fill="rgb(118,0,255)"/>
<rect x="966.4" y="1877.6" width="111.3" height="9.6" fill="rgb(100,0,255)"/>
<rect x="966.4" y="1868.6" width="111.3" height="9.6" fill="rgb(82,0,255)"/>
<rect x="966.4" y="1859.6" width="111.3" height="9.6" fill="rgb(64,0,255)"/>
<rect x="966.4" y="1850.6" width="111.3" height="9.6" fill="rgb(46,0,255)"/>
<rect x="966.4" y="1841.5" width="111.3" height="9.6" fill="rgb(27,0,255)"/>
<rect x="966.4" y="1832.5" width="111.3" height="9.6" fill="rgb(9,0,255)"/>
<rect x="966.4" y="1823.5" width="111.3" height="9.6" fill="rgb(0,13,255)"/>
<rect x="966.4" y="1814.5" width="111.3" height="9.6" fill="rgb(0,38,255)"/>
<rect x="966.4" y="1805.5" width="111.3" height="9.6" fill="rgb(0,64,255)"/>
<rect x="966.4" y="1796.5" width="111.3" height="9.6" fill="rgb(0,89,255)"/>
<rect x="966.4" y="1787.5" width="111.3" height="9.6" fill="rgb(0,115,255)"/>
<rect x="966.4" y="1778.4" width="111.3" height="9.6" fill="rgb(0,140,255)"/>
<rect x="966.4" y="1769.4" width="111.3" height="9.6" fill="rgb(0,166,255)"/>
<rect x="966.4" y="1760.4" width="111.3" height="9.6" fill="rgb(0,191,255)"/>
<rect x="966.4" y="1751.4" width="111.3" height="9.6" fill="rgb(0,217,255)"/>
<rect x="966.4" y="1742.4" width="111.3" height="9.6" fill="rgb(0,242,255)"/>
<rect x="966.4" y="1733.4" width="111.3" height="9.6" fill="rgb(12,255,243)"/>
<rect x="966.4" y="1724.3" width="111.3" height="9.6" fill="rgb(37,255,218)"/>
<rect x="966.4" y="1715.3" width="111.3" height="9.6" fill="rgb(62,255,193)"/>
<rect x="966.4" y="1706.3" width="111.3" height="9.6" fill="rgb(87,255,168)"/>
<rect x="966.4" y="1697.3" width="111.3" height="9.6" fill="rgb(111,255,144)"/>
<rect x="966.4" y="1688.3" width="111.3" height="9.6" fill="rgb(136,255,119)"/>
<rect x="966.4" y="1679.3" width="111.3" height="9.6" fill="rgb(161,255,94)"/>
<rect x="966.4" y="1670.3" width="111.3" height="9.6" fill="rgb(186,255,69)"/>
<rect x="966.4" y="1661.2" width="111.3" height="9.6" fill="rgb(210,255,45)"/>
<rect x="966.4" y="1652.2" width="111.3" height="9.6" fill="rgb(235,255,20)"/>
<rect x="966.4" y="1643.2" width="111.3" height="9.6" fill="rgb(255,252,0)"/>
<rect x="966.4" y="1634.2" width="111.3" height="9.6" fill="rgb(255,237,0)"/>
<rect x="966.4" y="1625.2" width="111.3" height="9.6" fill="rgb(255,223,0)"/>
<rect x="966.4" y="1616.2" width="111.3" height="9.6" fill="rgb(255,208,0)"/>
<rect x="966.4" y="1607.2" width="111.3" height="9.6" fill="rgb(255,193,0)"/>
<rect x="966.4" y="1598.1" width="111.3" height="9.6" fill="rgb(255,179,0)"/>
<rect x="966.4" y="1589.1" width="111.3" height="9.6" fill="rgb(255,164,0)"/>
<rect x="966.4" y="1580.1" width="111.3" height="9.6" fill="rgb(255,149,0)"/>
<rect x="966.4" y="1571.1" width="111.3" height="9.6" fill="rgb(255,135,0)"/>
<rect x="966.4" y="1562.1" width="111.3" height="9.6" fill="rgb(255,120,0)"/>
<rect x="966.4" y="1553.1" width="111.3" height="9.6" fill="rgb(255,106,0)"/>
<rect x="966.4" y="1544" width="111.3" height="9.6" fill="rgb(255,91,0)"/>
<rect x="966.4" y="1535" width="111.3" height="9.6" fill="rgb(255,76,0)"/>
<rect x="966.4" y="1526" width="111.3" height="9.6" fill="rgb(255,62,0)"/>
<rect x="966.4" y="1517" width="111.3" height="9.6" fill="rgb(255,47,0)"/>
<rect x="966.4" y="1508" width="111.3" height="9.6" fill="rgb(255,32,0)"/>
<rect x="966.4" y="1499" width="111.3" height="9.6" fill="rgb(255,18,0)"/>
<rect x="966.4" y="1490" width="111.3" height="9.6" fill="rgb(255,3,0)"/>
<rect x="966.4" y="1480.9" width="111.3" height="9.6" fill="rgb(180,0,0)"/>
</g>
<rect x="966.4" y="1480.9" width="111.3" height="486.8" fill="none" stroke="#3a3a3a" stroke-width="1.2"/>
<line x1="1077.7" y1="1967.8" x2="1087.7" y2="1967.8" stroke="#333" stroke-width="1.6" stroke-linecap="butt"/>
<text font-size="44" text-anchor="start" fill="#000" x="1104.2" y="1982.5" >20.00</text>
<line x1="1077.7" y1="1877.6" x2="1087.7" y2="1877.6" stroke="#333" stroke-width="1.6" stroke-linecap="butt"/>
<text font-size="44" text-anchor="start" fill="#000" x="1104.2" y="1892.4" >30.00</text>
<line x1="1077.7" y1="1787.5" x2="1087.7" y2="1787.5" stroke="#333" stroke-width="1.6" stroke-linecap="butt"/>
<text font-size="44" text-anchor="start" fill="#000" x="1104.2" y="1802.2" >40.00</text>
<line x1="1077.7" y1="1697.3" x2="1087.7" y2="1697.3" stroke="#333" stroke-width="1.6" stroke-linecap="butt"/>
<text font-size="44" text-anchor="start" fill="#000" x="1104.2" y="1712.1" >50.00</text>
<line x1="1077.7" y1="1607.2" x2="1087.7" y2="1607.2" stroke="#333" stroke-width="1.6" stroke-linecap="butt"/>
<text font-size="44" text-anchor="start" fill="#000" x="1104.2" y="1622" >60.00</text>
<line x1="1077.7" y1="1517" x2="1087.7" y2="1517" stroke="#333" stroke-width="1.6" stroke-linecap="butt"/>
<text font-size="44" text-anchor="start" fill="#000" x="1104.2" y="1531.8" >70.00</text>
</g>
<g id="heat3">
<defs>
<radialGradient id="hg3" cx="0.84" cy="0.74" r="1.1" fx="0.84" fy="0.74">
<stop offset="0%" stop-color="rgb(243,243,243)"/>
<stop offset="25%" stop-color="rgb(235,235,235)"/>
<stop offset="50%" stop-color="rgb(225,225,225)"/>
<stop offset="75%" stop-color="rgb(212,212,212)"/>
<stop offset="100%" stop-color="rgb(197,197,197)"/>
</radialGradient>
<filter id="hf3" x="215.3" y="2154.6" width="698.7" height="519.7" filterUnits="userSpaceOnUse" color-interpolation-filters="sRGB">
<feTurbulence type="fractalNoise" baseFrequency="0.16 0.145" numOctaves="2" seed="37" result="n"/>
<feColorMatrix in="n" type="matrix" values="1 0 0 0 0  1 0 0 0 0  1 0 0 0 0  0 0 0 0 1" result="ng"/>
<feComposite in="SourceGraphic" in2="ng" operator="arithmetic" k1="0" k2="1" k3="0.1222" k4="-0.0611" result="v"/>
<feComponentTransfer in="v">
<feFuncR type="table" tableValues="1.000 1.000 1.000 0.965 0.929 0.894 0.859 0.820 0.784 0.749 0.714 0.678 0.643 0.608 0.573 0.537 0.502 0.463 0.427 0.392 0.357 0.322 0.286 0.251 0.216 0.180 0.141 0.106 0.071 0.035 0.000 0.000 0.000 0.000 0.000 0.000 0.000 0.000 0.000 0.000 0.000 0.000 0.000 0.000 0.000 0.000 0.000 0.000 0.000 0.000 0.000 0.047 0.098 0.145 0.196 0.243 0.290 0.341 0.388 0.435 0.486 0.533 0.584 0.631 0.678 0.729 0.776 0.824 0.875 0.922 0.973 1.000 1.000 1.000 1.000 1.000 1.000 1.000 1.000 1.000 1.000 1.000 1.000 1.000 1.000 1.000 1.000 1.000 1.000 1.000 1.000 1.000 1.000 1.000 1.000 1.000 1.000 1.000 1.000 1.000 1.000 1.000 1.000 1.000 1.000 1.000 1.000 1.000 1.000"/>
<feFuncG type="table" tableValues="0.000 0.000 0.000 0.000 0.000 0.000 0.000 0.000 0.000 0.000 0.000 0.000 0.000 0.000 0.000 0.000 0.000 0.000 0.000 0.000 0.000 0.000 0.000 0.000 0.000 0.000 0.000 0.000 0.000 0.000 0.000 0.051 0.102 0.149 0.200 0.251 0.298 0.349 0.400 0.451 0.502 0.549 0.600 0.651 0.698 0.749 0.800 0.851 0.902 0.949 1.000 1.000 1.000 1.000 1.000 1.000 1.000 1.000 1.000 1.000 1.000 1.000 1.000 1.000 1.000 1.000 1.000 1.000 1.000 1.000 1.000 0.988 0.961 0.929 0.902 0.875 0.843 0.816 0.788 0.757 0.729 0.702 0.671 0.643 0.616 0.584 0.557 0.529 0.502 0.471 0.443 0.416 0.384 0.357 0.329 0.298 0.271 0.243 0.212 0.184 0.157 0.125 0.098 0.071 0.039 0.012 0.000 0.000 0.000"/>
<feFuncB type="table" tableValues="1.000 1.000 1.000 1.000 1.000 1.000 1.000 1.000 1.000 1.000 1.000 1.000 1.000 1.000 1.000 1.000 1.000 1.000 1.000 1.000 1.000 1.000 1.000 1.000 1.000 1.000 1.000 1.000 1.000 1.000 1.000 1.000 1.000 1.000 1.000 1.000 1.000 1.000 1.000 1.000 1.000 1.000 1.000 1.000 1.000 1.000 1.000 1.000 1.000 1.000 1.000 0.953 0.902 0.855 0.804 0.757 0.710 0.659 0.612 0.565 0.514 0.467 0.416 0.369 0.322 0.271 0.224 0.176 0.125 0.078 0.027 0.000 0.000 0.000 0.000 0.000 0.000 0.000 0.000 0.000 0.000 0.000 0.000 0.000 0.000 0.000 0.000 0.000 0.000 0.000 0.000 0.000 0.000 0.000 0.000 0.000 0.000 0.000 0.000 0.000 0.000 0.000 0.000 0.000 0.000 0.000 0.000 0.000 0.000"/>
</feComponentTransfer>
</filter>
</defs>
<g filter="url(#hf3)">
<rect x="215.3" y="2154.6" width="698.7" height="519.7" fill="url(#hg3)"/>
<radialGradient id="ho3_0"><stop offset="0" stop-color="#000" stop-opacity="0.03"/><stop offset="0.55" stop-color="#000" stop-opacity="0.0165"/><stop offset="1" stop-color="#000" stop-opacity="0"/></radialGradient>
<clipPath id="ho3_0c"><rect x="215.3" y="2154.6" width="698.7" height="519.7"/></clipPath>
<ellipse clip-path="url(#ho3_0c)" cx="320.1" cy="2154.6" rx="349.4" ry="129.9" fill="url(#ho3_0)"/>
<radialGradient id="ho3_1"><stop offset="0" stop-color="#000" stop-opacity="0.025"/><stop offset="0.55" stop-color="#000" stop-opacity="0.013750000000000002"/><stop offset="1" stop-color="#000" stop-opacity="0"/></radialGradient>
<clipPath id="ho3_1c"><rect x="215.3" y="2154.6" width="698.7" height="519.7"/></clipPath>
<ellipse clip-path="url(#ho3_1c)" cx="215.3" cy="2674.3" rx="209.6" ry="129.9" fill="url(#ho3_1)"/>
<radialGradient id="ho3_2"><stop offset="0" stop-color="#000" stop-opacity="0.03"/><stop offset="0.55" stop-color="#000" stop-opacity="0.0165"/><stop offset="1" stop-color="#000" stop-opacity="0"/></radialGradient>
<clipPath id="ho3_2c"><rect x="215.3" y="2154.6" width="698.7" height="519.7"/></clipPath>
<ellipse clip-path="url(#ho3_2c)" cx="634.5" cy="2154.6" rx="419.2" ry="83.2" fill="url(#ho3_2)"/>
</g>
<rect x="215.3" y="2154.6" width="698.7" height="519.7" fill="none" stroke="#000" stroke-width="4.4"/>
<line x1="271.1" y1="2676" x2="271.1" y2="2679.8" stroke="#000" stroke-width="4.2" stroke-linecap="butt"/>
<line x1="271.1" y1="2156.3" x2="271.1" y2="2160.3" stroke="#000" stroke-width="3.4" stroke-linecap="butt"/>
<line x1="329.5" y1="2676" x2="329.5" y2="2684" stroke="#000" stroke-width="5" stroke-linecap="butt"/>
<line x1="329.5" y1="2156.3" x2="329.5" y2="2163.8" stroke="#000" stroke-width="4" stroke-linecap="butt"/>
<line x1="387.9" y1="2676" x2="387.9" y2="2679.8" stroke="#000" stroke-width="4.2" stroke-linecap="butt"/>
<line x1="387.9" y1="2156.3" x2="387.9" y2="2160.3" stroke="#000" stroke-width="3.4" stroke-linecap="butt"/>
<line x1="446.4" y1="2676" x2="446.4" y2="2684" stroke="#000" stroke-width="5" stroke-linecap="butt"/>
<line x1="446.4" y1="2156.3" x2="446.4" y2="2163.8" stroke="#000" stroke-width="4" stroke-linecap="butt"/>
<line x1="504.9" y1="2676" x2="504.9" y2="2679.8" stroke="#000" stroke-width="4.2" stroke-linecap="butt"/>
<line x1="504.9" y1="2156.3" x2="504.9" y2="2160.3" stroke="#000" stroke-width="3.4" stroke-linecap="butt"/>
<line x1="563.3" y1="2676" x2="563.3" y2="2684" stroke="#000" stroke-width="5" stroke-linecap="butt"/>
<line x1="563.3" y1="2156.3" x2="563.3" y2="2163.8" stroke="#000" stroke-width="4" stroke-linecap="butt"/>
<line x1="621.8" y1="2676" x2="621.8" y2="2679.8" stroke="#000" stroke-width="4.2" stroke-linecap="butt"/>
<line x1="621.8" y1="2156.3" x2="621.8" y2="2160.3" stroke="#000" stroke-width="3.4" stroke-linecap="butt"/>
<line x1="680.2" y1="2676" x2="680.2" y2="2684" stroke="#000" stroke-width="5" stroke-linecap="butt"/>
<line x1="680.2" y1="2156.3" x2="680.2" y2="2163.8" stroke="#000" stroke-width="4" stroke-linecap="butt"/>
<line x1="738.6" y1="2676" x2="738.6" y2="2679.8" stroke="#000" stroke-width="4.2" stroke-linecap="butt"/>
<line x1="738.6" y1="2156.3" x2="738.6" y2="2160.3" stroke="#000" stroke-width="3.4" stroke-linecap="butt"/>
<line x1="797.1" y1="2676" x2="797.1" y2="2684" stroke="#000" stroke-width="5" stroke-linecap="butt"/>
<line x1="797.1" y1="2156.3" x2="797.1" y2="2163.8" stroke="#000" stroke-width="4" stroke-linecap="butt"/>
<line x1="855.5" y1="2676" x2="855.5" y2="2679.8" stroke="#000" stroke-width="4.2" stroke-linecap="butt"/>
<line x1="855.5" y1="2156.3" x2="855.5" y2="2160.3" stroke="#000" stroke-width="3.4" stroke-linecap="butt"/>
<line x1="914" y1="2676" x2="914" y2="2684" stroke="#000" stroke-width="5" stroke-linecap="butt"/>
<line x1="914" y1="2156.3" x2="914" y2="2163.8" stroke="#000" stroke-width="4" stroke-linecap="butt"/>
<line x1="213.6" y1="2612.2" x2="209.3" y2="2612.2" stroke="#000" stroke-width="4" stroke-linecap="butt"/>
<line x1="912.3" y1="2612.2" x2="908.3" y2="2612.2" stroke="#000" stroke-width="3.4" stroke-linecap="butt"/>
<line x1="213.6" y1="2546.8" x2="204.1" y2="2546.8" stroke="#000" stroke-width="4.6" stroke-linecap="butt"/>
<line x1="912.3" y1="2546.8" x2="904.8" y2="2546.8" stroke="#000" stroke-width="4" stroke-linecap="butt"/>
<line x1="213.6" y1="2481.5" x2="209.3" y2="2481.5" stroke="#000" stroke-width="4" stroke-linecap="butt"/>
<line x1="912.3" y1="2481.5" x2="908.3" y2="2481.5" stroke="#000" stroke-width="3.4" stroke-linecap="butt"/>
<line x1="213.6" y1="2416.1" x2="204.1" y2="2416.1" stroke="#000" stroke-width="4.6" stroke-linecap="butt"/>
<line x1="912.3" y1="2416.1" x2="904.8" y2="2416.1" stroke="#000" stroke-width="4" stroke-linecap="butt"/>
<line x1="213.6" y1="2350.7" x2="209.3" y2="2350.7" stroke="#000" stroke-width="4" stroke-linecap="butt"/>
<line x1="912.3" y1="2350.7" x2="908.3" y2="2350.7" stroke="#000" stroke-width="3.4" stroke-linecap="butt"/>
<line x1="213.6" y1="2285.3" x2="204.1" y2="2285.3" stroke="#000" stroke-width="4.6" stroke-linecap="butt"/>
<line x1="912.3" y1="2285.3" x2="904.8" y2="2285.3" stroke="#000" stroke-width="4" stroke-linecap="butt"/>
<line x1="213.6" y1="2220" x2="209.3" y2="2220" stroke="#000" stroke-width="4" stroke-linecap="butt"/>
<line x1="912.3" y1="2220" x2="908.3" y2="2220" stroke="#000" stroke-width="3.4" stroke-linecap="butt"/>
<line x1="213.6" y1="2154.6" x2="204.1" y2="2154.6" stroke="#000" stroke-width="4.6" stroke-linecap="butt"/>
<line x1="912.3" y1="2154.6" x2="904.8" y2="2154.6" stroke="#000" stroke-width="4" stroke-linecap="butt"/>
<text font-size="44" text-anchor="middle" fill="#000" x="329.5" y="2725.8" >40</text>
<text font-size="44" text-anchor="middle" fill="#000" x="446.4" y="2725.8" >80</text>
<text font-size="44" text-anchor="middle" fill="#000" x="563.3" y="2725.8" >120</text>
<text font-size="44" text-anchor="middle" fill="#000" x="680.2" y="2725.8" >160</text>
<text font-size="44" text-anchor="middle" fill="#000" x="797.1" y="2725.8" >200</text>
<text font-size="44" text-anchor="middle" fill="#000" x="914" y="2725.8" >240</text>
<text font-size="44" text-anchor="end" fill="#000" x="197.5" y="2559.7" >40</text>
<text font-size="44" text-anchor="end" fill="#000" x="197.5" y="2429" >80</text>
<text font-size="44" text-anchor="end" fill="#000" x="197.5" y="2298.2" >120</text>
<text font-size="44" text-anchor="end" fill="#000" x="197.5" y="2167.5" >160</text>
<text font-size="44.2" text-anchor="middle" fill="#000" x="564.5" y="2776.5" >X axis (pixels)</text>
<text font-size="44.2" text-anchor="middle" fill="#000" x="103" y="2414.4" transform="rotate(-90 103 2414.4)" >Y axis (pixels)</text>
<text font-size="44" text-anchor="start" fill="#000" x="910.8" y="2140.2" >Time = 600 s</text>
<g shape-rendering="crispEdges">
<rect x="972.2" y="2648.9" width="110.5" height="9.6" fill="rgb(168,0,208)"/>
<rect x="972.2" y="2639.9" width="110.5" height="9.6" fill="rgb(246,0,255)"/>
<rect x="972.2" y="2630.9" width="110.5" height="9.6" fill="rgb(228,0,255)"/>
<rect x="972.2" y="2621.9" width="110.5" height="9.6" fill="rgb(209,0,255)"/>
<rect x="972.2" y="2612.9" width="110.5" height="9.6" fill="rgb(191,0,255)"/>
<rect x="972.2" y="2603.9" width="110.5" height="9.6" fill="rgb(173,0,255)"/>
<rect x="972.2" y="2594.8" width="110.5" height="9.6" fill="rgb(155,0,255)"/>
<rect x="972.2" y="2585.8" width="110.5" height="9.6" fill="rgb(137,0,255)"/>
<rect x="972.2" y="2576.8" width="110.5" height="9.6" fill="rgb(118,0,255)"/>
<rect x="972.2" y="2567.8" width="110.5" height="9.6" fill="rgb(100,0,255)"/>
<rect x="972.2" y="2558.8" width="110.5" height="9.6" fill="rgb(82,0,255)"/>
<rect x="972.2" y="2549.8" width="110.5" height="9.6" fill="rgb(64,0,255)"/>
<rect x="972.2" y="2540.8" width="110.5" height="9.6" fill="rgb(46,0,255)"/>
<rect x="972.2" y="2531.7" width="110.5" height="9.6" fill="rgb(27,0,255)"/>
<rect x="972.2" y="2522.7" width="110.5" height="9.6" fill="rgb(9,0,255)"/>
<rect x="972.2" y="2513.7" width="110.5" height="9.6" fill="rgb(0,13,255)"/>
<rect x="972.2" y="2504.7" width="110.5" height="9.6" fill="rgb(0,38,255)"/>
<rect x="972.2" y="2495.7" width="110.5" height="9.6" fill="rgb(0,64,255)"/>
<rect x="972.2" y="2486.7" width="110.5" height="9.6" fill="rgb(0,89,255)"/>
<rect x="972.2" y="2477.6" width="110.5" height="9.6" fill="rgb(0,115,255)"/>
<rect x="972.2" y="2468.6" width="110.5" height="9.6" fill="rgb(0,140,255)"/>
<rect x="972.2" y="2459.6" width="110.5" height="9.6" fill="rgb(0,166,255)"/>
<rect x="972.2" y="2450.6" width="110.5" height="9.6" fill="rgb(0,191,255)"/>
<rect x="972.2" y="2441.6" width="110.5" height="9.6" fill="rgb(0,217,255)"/>
<rect x="972.2" y="2432.6" width="110.5" height="9.6" fill="rgb(0,242,255)"/>
<rect x="972.2" y="2423.6" width="110.5" height="9.6" fill="rgb(12,255,243)"/>
<rect x="972.2" y="2414.5" width="110.5" height="9.6" fill="rgb(37,255,218)"/>
<rect x="972.2" y="2405.5" width="110.5" height="9.6" fill="rgb(62,255,193)"/>
<rect x="972.2" y="2396.5" width="110.5" height="9.6" fill="rgb(87,255,168)"/>
<rect x="972.2" y="2387.5" width="110.5" height="9.6" fill="rgb(111,255,144)"/>
<rect x="972.2" y="2378.5" width="110.5" height="9.6" fill="rgb(136,255,119)"/>
<rect x="972.2" y="2369.5" width="110.5" height="9.6" fill="rgb(161,255,94)"/>
<rect x="972.2" y="2360.5" width="110.5" height="9.6" fill="rgb(186,255,69)"/>
<rect x="972.2" y="2351.4" width="110.5" height="9.6" fill="rgb(210,255,45)"/>
<rect x="972.2" y="2342.4" width="110.5" height="9.6" fill="rgb(235,255,20)"/>
<rect x="972.2" y="2333.4" width="110.5" height="9.6" fill="rgb(255,252,0)"/>
<rect x="972.2" y="2324.4" width="110.5" height="9.6" fill="rgb(255,237,0)"/>
<rect x="972.2" y="2315.4" width="110.5" height="9.6" fill="rgb(255,223,0)"/>
<rect x="972.2" y="2306.4" width="110.5" height="9.6" fill="rgb(255,208,0)"/>
<rect x="972.2" y="2297.3" width="110.5" height="9.6" fill="rgb(255,193,0)"/>
<rect x="972.2" y="2288.3" width="110.5" height="9.6" fill="rgb(255,179,0)"/>
<rect x="972.2" y="2279.3" width="110.5" height="9.6" fill="rgb(255,164,0)"/>
<rect x="972.2" y="2270.3" width="110.5" height="9.6" fill="rgb(255,149,0)"/>
<rect x="972.2" y="2261.3" width="110.5" height="9.6" fill="rgb(255,135,0)"/>
<rect x="972.2" y="2252.3" width="110.5" height="9.6" fill="rgb(255,120,0)"/>
<rect x="972.2" y="2243.3" width="110.5" height="9.6" fill="rgb(255,106,0)"/>
<rect x="972.2" y="2234.2" width="110.5" height="9.6" fill="rgb(255,91,0)"/>
<rect x="972.2" y="2225.2" width="110.5" height="9.6" fill="rgb(255,76,0)"/>
<rect x="972.2" y="2216.2" width="110.5" height="9.6" fill="rgb(255,62,0)"/>
<rect x="972.2" y="2207.2" width="110.5" height="9.6" fill="rgb(255,47,0)"/>
<rect x="972.2" y="2198.2" width="110.5" height="9.6" fill="rgb(255,32,0)"/>
<rect x="972.2" y="2189.2" width="110.5" height="9.6" fill="rgb(255,18,0)"/>
<rect x="972.2" y="2180.2" width="110.5" height="9.6" fill="rgb(255,3,0)"/>
<rect x="972.2" y="2171.1" width="110.5" height="9.6" fill="rgb(180,0,0)"/>
</g>
<rect x="972.2" y="2171" width="110.5" height="486.9" fill="none" stroke="#3a3a3a" stroke-width="1.2"/>
<line x1="1082.7" y1="2657.9" x2="1092.7" y2="2657.9" stroke="#333" stroke-width="1.6" stroke-linecap="butt"/>
<text font-size="44" text-anchor="start" fill="#000" x="1109.2" y="2672.8" >20.00</text>
<line x1="1082.7" y1="2567.8" x2="1092.7" y2="2567.8" stroke="#333" stroke-width="1.6" stroke-linecap="butt"/>
<text font-size="44" text-anchor="start" fill="#000" x="1109.2" y="2582.6" >30.00</text>
<line x1="1082.7" y1="2477.6" x2="1092.7" y2="2477.6" stroke="#333" stroke-width="1.6" stroke-linecap="butt"/>
<text font-size="44" text-anchor="start" fill="#000" x="1109.2" y="2492.4" >40.00</text>
<line x1="1082.7" y1="2387.5" x2="1092.7" y2="2387.5" stroke="#333" stroke-width="1.6" stroke-linecap="butt"/>
<text font-size="44" text-anchor="start" fill="#000" x="1109.2" y="2402.3" >50.00</text>
<line x1="1082.7" y1="2297.3" x2="1092.7" y2="2297.3" stroke="#333" stroke-width="1.6" stroke-linecap="butt"/>
<text font-size="44" text-anchor="start" fill="#000" x="1109.2" y="2312.2" >60.00</text>
<line x1="1082.7" y1="2207.2" x2="1092.7" y2="2207.2" stroke="#333" stroke-width="1.6" stroke-linecap="butt"/>
<text font-size="44" text-anchor="start" fill="#000" x="1109.2" y="2222" >70.00</text>
</g>
<g id="heat4">
<defs>
<radialGradient id="hg4" cx="0.8" cy="0.74" r="1.08" fx="0.8" fy="0.74">
<stop offset="0%" stop-color="rgb(238,238,238)"/>
<stop offset="25%" stop-color="rgb(231,231,231)"/>
<stop offset="50%" stop-color="rgb(221,221,221)"/>
<stop offset="75%" stop-color="rgb(209,209,209)"/>
<stop offset="100%" stop-color="rgb(193,193,193)"/>
</radialGradient>
<filter id="hf4" x="215.3" y="2839" width="698.7" height="522" filterUnits="userSpaceOnUse" color-interpolation-filters="sRGB">
<feTurbulence type="fractalNoise" baseFrequency="0.16 0.145" numOctaves="2" seed="51" result="n"/>
<feColorMatrix in="n" type="matrix" values="1 0 0 0 0  1 0 0 0 0  1 0 0 0 0  0 0 0 0 1" result="ng"/>
<feComposite in="SourceGraphic" in2="ng" operator="arithmetic" k1="0" k2="1" k3="0.1222" k4="-0.0611" result="v"/>
<feComponentTransfer in="v">
<feFuncR type="table" tableValues="1.000 1.000 1.000 0.965 0.929 0.894 0.859 0.820 0.784 0.749 0.714 0.678 0.643 0.608 0.573 0.537 0.502 0.463 0.427 0.392 0.357 0.322 0.286 0.251 0.216 0.180 0.141 0.106 0.071 0.035 0.000 0.000 0.000 0.000 0.000 0.000 0.000 0.000 0.000 0.000 0.000 0.000 0.000 0.000 0.000 0.000 0.000 0.000 0.000 0.000 0.000 0.047 0.098 0.145 0.196 0.243 0.290 0.341 0.388 0.435 0.486 0.533 0.584 0.631 0.678 0.729 0.776 0.824 0.875 0.922 0.973 1.000 1.000 1.000 1.000 1.000 1.000 1.000 1.000 1.000 1.000 1.000 1.000 1.000 1.000 1.000 1.000 1.000 1.000 1.000 1.000 1.000 1.000 1.000 1.000 1.000 1.000 1.000 1.000 1.000 1.000 1.000 1.000 1.000 1.000 1.000 1.000 1.000 1.000"/>
<feFuncG type="table" tableValues="0.000 0.000 0.000 0.000 0.000 0.000 0.000 0.000 0.000 0.000 0.000 0.000 0.000 0.000 0.000 0.000 0.000 0.000 0.000 0.000 0.000 0.000 0.000 0.000 0.000 0.000 0.000 0.000 0.000 0.000 0.000 0.051 0.102 0.149 0.200 0.251 0.298 0.349 0.400 0.451 0.502 0.549 0.600 0.651 0.698 0.749 0.800 0.851 0.902 0.949 1.000 1.000 1.000 1.000 1.000 1.000 1.000 1.000 1.000 1.000 1.000 1.000 1.000 1.000 1.000 1.000 1.000 1.000 1.000 1.000 1.000 0.988 0.961 0.929 0.902 0.875 0.843 0.816 0.788 0.757 0.729 0.702 0.671 0.643 0.616 0.584 0.557 0.529 0.502 0.471 0.443 0.416 0.384 0.357 0.329 0.298 0.271 0.243 0.212 0.184 0.157 0.125 0.098 0.071 0.039 0.012 0.000 0.000 0.000"/>
<feFuncB type="table" tableValues="1.000 1.000 1.000 1.000 1.000 1.000 1.000 1.000 1.000 1.000 1.000 1.000 1.000 1.000 1.000 1.000 1.000 1.000 1.000 1.000 1.000 1.000 1.000 1.000 1.000 1.000 1.000 1.000 1.000 1.000 1.000 1.000 1.000 1.000 1.000 1.000 1.000 1.000 1.000 1.000 1.000 1.000 1.000 1.000 1.000 1.000 1.000 1.000 1.000 1.000 1.000 0.953 0.902 0.855 0.804 0.757 0.710 0.659 0.612 0.565 0.514 0.467 0.416 0.369 0.322 0.271 0.224 0.176 0.125 0.078 0.027 0.000 0.000 0.000 0.000 0.000 0.000 0.000 0.000 0.000 0.000 0.000 0.000 0.000 0.000 0.000 0.000 0.000 0.000 0.000 0.000 0.000 0.000 0.000 0.000 0.000 0.000 0.000 0.000 0.000 0.000 0.000 0.000 0.000 0.000 0.000 0.000 0.000 0.000"/>
</feComponentTransfer>
</filter>
</defs>
<g filter="url(#hf4)">
<rect x="215.3" y="2839" width="698.7" height="522" fill="url(#hg4)"/>
<radialGradient id="ho4_0"><stop offset="0" stop-color="#000" stop-opacity="0.035"/><stop offset="0.55" stop-color="#000" stop-opacity="0.019250000000000003"/><stop offset="1" stop-color="#000" stop-opacity="0"/></radialGradient>
<clipPath id="ho4_0c"><rect x="215.3" y="2839" width="698.7" height="522"/></clipPath>
<ellipse clip-path="url(#ho4_0c)" cx="424.9" cy="2839" rx="489.1" ry="114.8" fill="url(#ho4_0)"/>
<radialGradient id="ho4_1"><stop offset="0" stop-color="#000" stop-opacity="0.03"/><stop offset="0.55" stop-color="#000" stop-opacity="0.0165"/><stop offset="1" stop-color="#000" stop-opacity="0"/></radialGradient>
<clipPath id="ho4_1c"><rect x="215.3" y="2839" width="698.7" height="522"/></clipPath>
<ellipse clip-path="url(#ho4_1c)" cx="215.3" cy="3361" rx="209.6" ry="130.5" fill="url(#ho4_1)"/>
</g>
<rect x="215.3" y="2839" width="698.7" height="522" fill="none" stroke="#000" stroke-width="4.4"/>
<line x1="271.1" y1="3362.7" x2="271.1" y2="3366.5" stroke="#000" stroke-width="4.2" stroke-linecap="butt"/>
<line x1="329.5" y1="3362.7" x2="329.5" y2="3370.7" stroke="#000" stroke-width="5" stroke-linecap="butt"/>
<line x1="387.9" y1="3362.7" x2="387.9" y2="3366.5" stroke="#000" stroke-width="4.2" stroke-linecap="butt"/>
<line x1="446.4" y1="3362.7" x2="446.4" y2="3370.7" stroke="#000" stroke-width="5" stroke-linecap="butt"/>
<line x1="504.9" y1="3362.7" x2="504.9" y2="3366.5" stroke="#000" stroke-width="4.2" stroke-linecap="butt"/>
<line x1="563.3" y1="3362.7" x2="563.3" y2="3370.7" stroke="#000" stroke-width="5" stroke-linecap="butt"/>
<line x1="621.8" y1="3362.7" x2="621.8" y2="3366.5" stroke="#000" stroke-width="4.2" stroke-linecap="butt"/>
<line x1="680.2" y1="3362.7" x2="680.2" y2="3370.7" stroke="#000" stroke-width="5" stroke-linecap="butt"/>
<line x1="738.6" y1="3362.7" x2="738.6" y2="3366.5" stroke="#000" stroke-width="4.2" stroke-linecap="butt"/>
<line x1="797.1" y1="3362.7" x2="797.1" y2="3370.7" stroke="#000" stroke-width="5" stroke-linecap="butt"/>
<line x1="855.5" y1="3362.7" x2="855.5" y2="3366.5" stroke="#000" stroke-width="4.2" stroke-linecap="butt"/>
<line x1="914" y1="3362.7" x2="914" y2="3370.7" stroke="#000" stroke-width="5" stroke-linecap="butt"/>
<line x1="213.6" y1="3298.6" x2="209.3" y2="3298.6" stroke="#000" stroke-width="4" stroke-linecap="butt"/>
<line x1="213.6" y1="3233" x2="204.1" y2="3233" stroke="#000" stroke-width="4.6" stroke-linecap="butt"/>
<line x1="213.6" y1="3167.3" x2="209.3" y2="3167.3" stroke="#000" stroke-width="4" stroke-linecap="butt"/>
<line x1="213.6" y1="3101.6" x2="204.1" y2="3101.6" stroke="#000" stroke-width="4.6" stroke-linecap="butt"/>
<line x1="213.6" y1="3036" x2="209.3" y2="3036" stroke="#000" stroke-width="4" stroke-linecap="butt"/>
<line x1="213.6" y1="2970.3" x2="204.1" y2="2970.3" stroke="#000" stroke-width="4.6" stroke-linecap="butt"/>
<line x1="213.6" y1="2904.7" x2="209.3" y2="2904.7" stroke="#000" stroke-width="4" stroke-linecap="butt"/>
<line x1="213.6" y1="2839" x2="204.1" y2="2839" stroke="#000" stroke-width="4.6" stroke-linecap="butt"/>
<text font-size="44" text-anchor="middle" fill="#000" x="329.5" y="3412.5" >40</text>
<text font-size="44" text-anchor="middle" fill="#000" x="446.4" y="3412.5" >80</text>
<text font-size="44" text-anchor="middle" fill="#000" x="563.3" y="3412.5" >120</text>
<text font-size="44" text-anchor="middle" fill="#000" x="680.2" y="3412.5" >160</text>
<text font-size="44" text-anchor="middle" fill="#000" x="797.1" y="3412.5" >200</text>
<text font-size="44" text-anchor="middle" fill="#000" x="914" y="3412.5" >240</text>
<text font-size="44" text-anchor="end" fill="#000" x="197.5" y="3245.9" >40</text>
<text font-size="44" text-anchor="end" fill="#000" x="197.5" y="3114.5" >80</text>
<text font-size="44" text-anchor="end" fill="#000" x="197.5" y="2983.2" >120</text>
<text font-size="44" text-anchor="end" fill="#000" x="197.5" y="2851.9" >160</text>
<text font-size="44.2" text-anchor="middle" fill="#000" x="564.5" y="3460.7" >X axis (pixels)</text>
<text font-size="44.2" text-anchor="middle" fill="#000" x="103" y="3100" transform="rotate(-90 103 3100)" >Y axis (pixels)</text>
<text font-size="44" text-anchor="start" fill="#000" x="895.6" y="2813.1" >Time = 3600 s</text>
<g shape-rendering="crispEdges">
<rect x="968.4" y="3333.2" width="110.5" height="9.6" fill="rgb(168,0,208)"/>
<rect x="968.4" y="3324.2" width="110.5" height="9.6" fill="rgb(246,0,255)"/>
<rect x="968.4" y="3315.2" width="110.5" height="9.6" fill="rgb(228,0,255)"/>
<rect x="968.4" y="3306.2" width="110.5" height="9.6" fill="rgb(209,0,255)"/>
<rect x="968.4" y="3297.2" width="110.5" height="9.6" fill="rgb(191,0,255)"/>
<rect x="968.4" y="3288.2" width="110.5" height="9.6" fill="rgb(173,0,255)"/>
<rect x="968.4" y="3279.1" width="110.5" height="9.6" fill="rgb(155,0,255)"/>
<rect x="968.4" y="3270.1" width="110.5" height="9.6" fill="rgb(137,0,255)"/>
<rect x="968.4" y="3261.1" width="110.5" height="9.6" fill="rgb(118,0,255)"/>
<rect x="968.4" y="3252.1" width="110.5" height="9.6" fill="rgb(100,0,255)"/>
<rect x="968.4" y="3243.1" width="110.5" height="9.6" fill="rgb(82,0,255)"/>
<rect x="968.4" y="3234.1" width="110.5" height="9.6" fill="rgb(64,0,255)"/>
<rect x="968.4" y="3225.1" width="110.5" height="9.6" fill="rgb(46,0,255)"/>
<rect x="968.4" y="3216" width="110.5" height="9.6" fill="rgb(27,0,255)"/>
<rect x="968.4" y="3207" width="110.5" height="9.6" fill="rgb(9,0,255)"/>
<rect x="968.4" y="3198" width="110.5" height="9.6" fill="rgb(0,13,255)"/>
<rect x="968.4" y="3189" width="110.5" height="9.6" fill="rgb(0,38,255)"/>
<rect x="968.4" y="3180" width="110.5" height="9.6" fill="rgb(0,64,255)"/>
<rect x="968.4" y="3171" width="110.5" height="9.6" fill="rgb(0,89,255)"/>
<rect x="968.4" y="3161.9" width="110.5" height="9.6" fill="rgb(0,115,255)"/>
<rect x="968.4" y="3152.9" width="110.5" height="9.6" fill="rgb(0,140,255)"/>
<rect x="968.4" y="3143.9" width="110.5" height="9.6" fill="rgb(0,166,255)"/>
<rect x="968.4" y="3134.9" width="110.5" height="9.6" fill="rgb(0,191,255)"/>
<rect x="968.4" y="3125.9" width="110.5" height="9.6" fill="rgb(0,217,255)"/>
<rect x="968.4" y="3116.9" width="110.5" height="9.6" fill="rgb(0,242,255)"/>
<rect x="968.4" y="3107.9" width="110.5" height="9.6" fill="rgb(12,255,243)"/>
<rect x="968.4" y="3098.8" width="110.5" height="9.6" fill="rgb(37,255,218)"/>
<rect x="968.4" y="3089.8" width="110.5" height="9.6" fill="rgb(62,255,193)"/>
<rect x="968.4" y="3080.8" width="110.5" height="9.6" fill="rgb(87,255,168)"/>
<rect x="968.4" y="3071.8" width="110.5" height="9.6" fill="rgb(111,255,144)"/>
<rect x="968.4" y="3062.8" width="110.5" height="9.6" fill="rgb(136,255,119)"/>
<rect x="968.4" y="3053.8" width="110.5" height="9.6" fill="rgb(161,255,94)"/>
<rect x="968.4" y="3044.8" width="110.5" height="9.6" fill="rgb(186,255,69)"/>
<rect x="968.4" y="3035.7" width="110.5" height="9.6" fill="rgb(210,255,45)"/>
<rect x="968.4" y="3026.7" width="110.5" height="9.6" fill="rgb(235,255,20)"/>
<rect x="968.4" y="3017.7" width="110.5" height="9.6" fill="rgb(255,252,0)"/>
<rect x="968.4" y="3008.7" width="110.5" height="9.6" fill="rgb(255,237,0)"/>
<rect x="968.4" y="2999.7" width="110.5" height="9.6" fill="rgb(255,223,0)"/>
<rect x="968.4" y="2990.7" width="110.5" height="9.6" fill="rgb(255,208,0)"/>
<rect x="968.4" y="2981.7" width="110.5" height="9.6" fill="rgb(255,193,0)"/>
<rect x="968.4" y="2972.6" width="110.5" height="9.6" fill="rgb(255,179,0)"/>
<rect x="968.4" y="2963.6" width="110.5" height="9.6" fill="rgb(255,164,0)"/>
<rect x="968.4" y="2954.6" width="110.5" height="9.6" fill="rgb(255,149,0)"/>
<rect x="968.4" y="2945.6" width="110.5" height="9.6" fill="rgb(255,135,0)"/>
<rect x="968.4" y="2936.6" width="110.5" height="9.6" fill="rgb(255,120,0)"/>
<rect x="968.4" y="2927.6" width="110.5" height="9.6" fill="rgb(255,106,0)"/>
<rect x="968.4" y="2918.5" width="110.5" height="9.6" fill="rgb(255,91,0)"/>
<rect x="968.4" y="2909.5" width="110.5" height="9.6" fill="rgb(255,76,0)"/>
<rect x="968.4" y="2900.5" width="110.5" height="9.6" fill="rgb(255,62,0)"/>
<rect x="968.4" y="2891.5" width="110.5" height="9.6" fill="rgb(255,47,0)"/>
<rect x="968.4" y="2882.5" width="110.5" height="9.6" fill="rgb(255,32,0)"/>
<rect x="968.4" y="2873.5" width="110.5" height="9.6" fill="rgb(255,18,0)"/>
<rect x="968.4" y="2864.5" width="110.5" height="9.6" fill="rgb(255,3,0)"/>
<rect x="968.4" y="2855.6" width="110.5" height="9.5" fill="rgb(180,0,0)"/>
</g>
<rect x="968.4" y="2855.6" width="110.5" height="486.7" fill="none" stroke="#3a3a3a" stroke-width="1.2"/>
<line x1="1078.9" y1="3342.2" x2="1088.9" y2="3342.2" stroke="#333" stroke-width="1.6" stroke-linecap="butt"/>
<text font-size="44" text-anchor="start" fill="#000" x="1105.4" y="3357.1" >20.00</text>
<line x1="1078.9" y1="3252.1" x2="1088.9" y2="3252.1" stroke="#333" stroke-width="1.6" stroke-linecap="butt"/>
<text font-size="44" text-anchor="start" fill="#000" x="1105.4" y="3266.9" >30.00</text>
<line x1="1078.9" y1="3161.9" x2="1088.9" y2="3161.9" stroke="#333" stroke-width="1.6" stroke-linecap="butt"/>
<text font-size="44" text-anchor="start" fill="#000" x="1105.4" y="3176.8" >40.00</text>
<line x1="1078.9" y1="3071.8" x2="1088.9" y2="3071.8" stroke="#333" stroke-width="1.6" stroke-linecap="butt"/>
<text font-size="44" text-anchor="start" fill="#000" x="1105.4" y="3086.6" >50.00</text>
<line x1="1078.9" y1="2981.7" x2="1088.9" y2="2981.7" stroke="#333" stroke-width="1.6" stroke-linecap="butt"/>
<text font-size="44" text-anchor="start" fill="#000" x="1105.4" y="2996.5" >60.00</text>
<line x1="1078.9" y1="2891.5" x2="1088.9" y2="2891.5" stroke="#333" stroke-width="1.6" stroke-linecap="butt"/>
<text font-size="44" text-anchor="start" fill="#000" x="1105.4" y="2906.3" >70.00</text>
</g>
<g id="hist0">
<rect x="1508.4" y="585.4" width="39.5" height="6.2" fill="#ff0000" stroke="#cdbfbf" stroke-width="1.3"/>
<rect x="1551.8" y="546" width="39.5" height="45.6" fill="#ff0000" stroke="#cdbfbf" stroke-width="1.3"/>
<rect x="1595.2" y="442" width="39.5" height="149.6" fill="#ff0000" stroke="#cdbfbf" stroke-width="1.3"/>
<rect x="1638.6" y="374.4" width="39.5" height="217.2" fill="#ff0000" stroke="#cdbfbf" stroke-width="1.3"/>
<rect x="1682" y="307.4" width="39.5" height="284.2" fill="#ff0000" stroke="#cdbfbf" stroke-width="1.3"/>
<rect x="1725.4" y="209.2" width="39.5" height="382.4" fill="#ff0000" stroke="#cdbfbf" stroke-width="1.3"/>
<rect x="1768.8" y="274.7" width="39.5" height="316.9" fill="#ff0000" stroke="#cdbfbf" stroke-width="1.3"/>
<rect x="1812.2" y="307.4" width="39.5" height="284.2" fill="#ff0000" stroke="#cdbfbf" stroke-width="1.3"/>
<rect x="1855.6" y="424.7" width="39.5" height="166.9" fill="#ff0000" stroke="#cdbfbf" stroke-width="1.3"/>
<rect x="1899" y="518.4" width="39.5" height="73.2" fill="#ff0000" stroke="#cdbfbf" stroke-width="1.3"/>
<rect x="1942.4" y="560.9" width="39.5" height="30.7" fill="#ff0000" stroke="#cdbfbf" stroke-width="1.3"/>
<rect x="1985.8" y="586" width="39.5" height="5.6" fill="#ff0000" stroke="#cdbfbf" stroke-width="1.3"/>
<polyline points="1463,589.4 1466.8,589.1 1470.6,588.7 1474.4,588.3 1478.2,587.8 1482,587.3 1485.8,586.8 1489.6,586.1 1493.4,585.4 1497.2,584.6 1501,583.8 1504.8,582.8 1508.6,581.7 1512.4,580.5 1516.2,579.2 1520,577.8 1523.8,576.2 1527.6,574.5 1531.4,572.7 1535.2,570.6 1539,568.4 1542.8,566 1546.6,563.4 1550.4,560.6 1554.2,557.5 1558,554.3 1561.8,550.8 1565.5,547 1569.3,543 1573.1,538.7 1576.9,534.2 1580.7,529.3 1584.5,524.2 1588.3,518.8 1592.1,513.1 1595.9,507 1599.7,500.7 1603.5,494.1 1607.3,487.2 1611.1,480 1614.9,472.5 1618.7,464.7 1622.5,456.7 1626.3,448.4 1630.1,439.8 1633.9,431 1637.7,422.1 1641.5,412.9 1645.3,403.6 1649.1,394.1 1652.9,384.6 1656.7,374.9 1660.5,365.2 1664.3,355.5 1668.1,345.8 1671.9,336.2 1675.7,326.7 1679.5,317.3 1683.3,308 1687.1,299 1690.9,290.2 1694.7,281.7 1698.5,273.5 1702.3,265.7 1706.1,258.2 1709.9,251.2 1713.7,244.7 1717.5,238.7 1721.3,233.2 1725.1,228.3 1728.9,223.9 1732.7,220.2 1736.5,217.1 1740.3,214.6 1744.1,212.7 1747.9,211.6 1751.7,211.1 1755.5,211.3 1759.3,212.1 1763.1,213.7 1766.8,215.8 1770.6,218.7 1774.4,222.1 1778.2,226.2 1782,230.9 1785.8,236.1 1789.6,241.9 1793.4,248.2 1797.2,255 1801,262.2 1804.8,269.9 1808.6,277.9 1812.4,286.3 1816.2,294.9 1820,303.9 1823.8,313 1827.6,322.3 1831.4,331.8 1835.2,341.4 1839,351.1 1842.8,360.8 1846.6,370.5 1850.4,380.2 1854.2,389.8 1858,399.3 1861.8,408.7 1865.6,417.9 1869.4,427 1873.2,435.8 1877,444.5 1880.8,452.9 1884.6,461.1 1888.4,469 1892.2,476.6 1896,483.9 1899.8,491 1903.6,497.7 1907.4,504.2 1911.2,510.3 1915,516.2 1918.8,521.8 1922.6,527 1926.4,532 1930.2,536.7 1934,541.1 1937.8,545.2 1941.6,549.1 1945.4,552.7 1949.2,556.1 1953,559.2 1956.8,562.1 1960.6,564.8 1964.4,567.3 1968.2,569.6 1971.9,571.7 1975.7,573.7 1979.5,575.5 1983.3,577.1 1987.1,578.6 1990.9,580 1994.7,581.2 1998.5,582.3 2002.3,583.3 2006.1,584.2 2009.9,585.1 2013.7,585.8 2017.5,586.5 2021.3,587.1 2025.1,587.6 2028.9,588.1 2032.7,588.5 2036.5,588.9 2040.3,589.2 2044.1,589.5 2047.9,589.8 2051.7,590 2055.5,590.2 2059.3,590.4 2063.1,590.6 2066.9,590.7 2070.7,590.8" fill="none" stroke="#000" stroke-width="5" stroke-linejoin="round" stroke-linecap="round"/>
<polyline points="1463,591.6 1484.7,591.6 1528.1,590.1 1571.5,578.8 1614.9,541.4 1658.3,487 1701.7,415.9 1745.1,320.1 1788.6,240.8 1832,169.7 1875.4,127.9 1918.8,109.6 1962.2,102 2005.6,100.7 2070.7,100.7" fill="none" stroke="#0000ff" stroke-width="5" stroke-linejoin="round"/>
<line x1="1460.8" y1="98.7" x2="2072.9" y2="98.7" stroke="#000" stroke-width="4.4" stroke-linecap="butt"/>
<line x1="1460.8" y1="591.6" x2="2072.9" y2="591.6" stroke="#000" stroke-width="4.4" stroke-linecap="butt"/>
<line x1="1463" y1="98.7" x2="1463" y2="591.6" stroke="#000" stroke-width="4.4" stroke-linecap="butt"/>
<line x1="2070.7" y1="96.5" x2="2070.7" y2="593.8" stroke="#0000ff" stroke-width="4.4" stroke-linecap="butt"/>
<line x1="1549.8" y1="591.6" x2="1549.8" y2="600.4" stroke="#000" stroke-width="4" stroke-linecap="butt"/>
<line x1="1549.8" y1="98.7" x2="1549.8" y2="107.2" stroke="#000" stroke-width="4" stroke-linecap="butt"/>
<line x1="1658.3" y1="591.6" x2="1658.3" y2="596.7" stroke="#000" stroke-width="3.4" stroke-linecap="butt"/>
<line x1="1658.3" y1="98.7" x2="1658.3" y2="103.5" stroke="#000" stroke-width="3.4" stroke-linecap="butt"/>
<line x1="1766.8" y1="591.6" x2="1766.8" y2="600.4" stroke="#000" stroke-width="4" stroke-linecap="butt"/>
<line x1="1766.8" y1="98.7" x2="1766.8" y2="107.2" stroke="#000" stroke-width="4" stroke-linecap="butt"/>
<line x1="1875.4" y1="591.6" x2="1875.4" y2="596.7" stroke="#000" stroke-width="3.4" stroke-linecap="butt"/>
<line x1="1875.4" y1="98.7" x2="1875.4" y2="103.5" stroke="#000" stroke-width="3.4" stroke-linecap="butt"/>
<line x1="1983.9" y1="591.6" x2="1983.9" y2="600.4" stroke="#000" stroke-width="4" stroke-linecap="butt"/>
<line x1="1983.9" y1="98.7" x2="1983.9" y2="107.2" stroke="#000" stroke-width="4" stroke-linecap="butt"/>
<line x1="1463" y1="591.6" x2="1454.1" y2="591.6" stroke="#000" stroke-width="4" stroke-linecap="butt"/>
<line x1="1463" y1="542.3" x2="1457.8" y2="542.3" stroke="#000" stroke-width="3.4" stroke-linecap="butt"/>
<line x1="1463" y1="493" x2="1454.1" y2="493" stroke="#000" stroke-width="4" stroke-linecap="butt"/>
<line x1="1463" y1="443.7" x2="1457.8" y2="443.7" stroke="#000" stroke-width="3.4" stroke-linecap="butt"/>
<line x1="1463" y1="394.4" x2="1454.1" y2="394.4" stroke="#000" stroke-width="4" stroke-linecap="butt"/>
<line x1="1463" y1="345.1" x2="1457.8" y2="345.1" stroke="#000" stroke-width="3.4" stroke-linecap="butt"/>
<line x1="1463" y1="295.9" x2="1454.1" y2="295.9" stroke="#000" stroke-width="4" stroke-linecap="butt"/>
<line x1="1463" y1="246.6" x2="1457.8" y2="246.6" stroke="#000" stroke-width="3.4" stroke-linecap="butt"/>
<line x1="1463" y1="197.3" x2="1454.1" y2="197.3" stroke="#000" stroke-width="4" stroke-linecap="butt"/>
<line x1="1463" y1="148" x2="1457.8" y2="148" stroke="#000" stroke-width="3.4" stroke-linecap="butt"/>
<line x1="1463" y1="98.7" x2="1454.1" y2="98.7" stroke="#000" stroke-width="4" stroke-linecap="butt"/>
<line x1="2070.7" y1="591.6" x2="2080.1" y2="591.6" stroke="#0000ff" stroke-width="4" stroke-linecap="butt"/>
<line x1="2070.7" y1="542.5" x2="2076.4" y2="542.5" stroke="#0000ff" stroke-width="3.2" stroke-linecap="butt"/>
<line x1="2070.7" y1="493.4" x2="2080.1" y2="493.4" stroke="#0000ff" stroke-width="4" stroke-linecap="butt"/>
<line x1="2070.7" y1="444.3" x2="2076.4" y2="444.3" stroke="#0000ff" stroke-width="3.2" stroke-linecap="butt"/>
<line x1="2070.7" y1="395.2" x2="2080.1" y2="395.2" stroke="#0000ff" stroke-width="4" stroke-linecap="butt"/>
<line x1="2070.7" y1="346.1" x2="2076.4" y2="346.1" stroke="#0000ff" stroke-width="3.2" stroke-linecap="butt"/>
<line x1="2070.7" y1="297.1" x2="2080.1" y2="297.1" stroke="#0000ff" stroke-width="4" stroke-linecap="butt"/>
<line x1="2070.7" y1="248" x2="2076.4" y2="248" stroke="#0000ff" stroke-width="3.2" stroke-linecap="butt"/>
<line x1="2070.7" y1="198.9" x2="2080.1" y2="198.9" stroke="#0000ff" stroke-width="4" stroke-linecap="butt"/>
<line x1="2070.7" y1="149.8" x2="2076.4" y2="149.8" stroke="#0000ff" stroke-width="3.2" stroke-linecap="butt"/>
<line x1="2070.7" y1="100.7" x2="2080.1" y2="100.7" stroke="#0000ff" stroke-width="4" stroke-linecap="butt"/>
<text font-size="39.5" text-anchor="middle" fill="#000" x="1549.8" y="637.3" >30</text>
<text font-size="39.5" text-anchor="middle" fill="#000" x="1766.8" y="637.3" >35</text>
<text font-size="39.5" text-anchor="middle" fill="#000" x="1983.9" y="637.3" >40</text>
<text font-size="39.5" text-anchor="end" fill="#000" x="1447.6" y="603.5" >0</text>
<text font-size="39.5" text-anchor="end" fill="#000" x="1447.6" y="504.9" >5</text>
<text font-size="39.5" text-anchor="end" fill="#000" x="1447.6" y="406.3" >10</text>
<text font-size="39.5" text-anchor="end" fill="#000" x="1447.6" y="307.8" >15</text>
<text font-size="39.5" text-anchor="end" fill="#000" x="1447.6" y="209.2" >20</text>
<text font-size="39.5" text-anchor="end" fill="#000" x="1447.6" y="110.6" >25</text>
<text font-size="39.5" text-anchor="start" fill="#0000ff" x="2084.5" y="605.6" >0</text>
<text font-size="39.5" text-anchor="start" fill="#0000ff" x="2084.5" y="507.4" >20</text>
<text font-size="39.5" text-anchor="start" fill="#0000ff" x="2084.5" y="409.2" >40</text>
<text font-size="39.5" text-anchor="start" fill="#0000ff" x="2084.5" y="311.1" >60</text>
<text font-size="39.5" text-anchor="start" fill="#0000ff" x="2084.5" y="212.9" >80</text>
<text font-size="39.5" text-anchor="start" fill="#0000ff" x="2084.5" y="115.7" >100</text>
<rect x="1483.8" y="128.3" width="85.4" height="41.3" fill="#ff0000"/>
<text font-size="39" text-anchor="start" fill="#000" x="1579.3" y="162.2" >60 s</text>
<text font-size="51.7" text-anchor="middle" fill="#000" x="1765.9" y="685.5" >Temperature (°C)</text>
<text font-size="51.2" text-anchor="middle" fill="#000" x="1381.7" y="344.7" transform="rotate(-90 1381.7 344.7)" >Frequency (%)</text>
<text font-size="51.3" text-anchor="middle" fill="#0000ff" x="2193" y="352.2" transform="rotate(90 2193 352.2)" >Cumulative distribution</text>
<text font-size="51.5" text-anchor="middle" fill="#0000ff" x="2128.2" y="346.2" transform="rotate(90 2128.2 346.2)" >(%)</text>
<text font-size="125" text-anchor="start" fill="#000" x="0" y="0" transform="translate(2261.3 167.7) scale(0.9120 0.9960)" >a</text>
</g>
<g id="hist1">
<rect x="1504.5" y="1263.2" width="37.1" height="19.8" fill="#ff0000" stroke="#cdbfbf" stroke-width="1.3"/>
<rect x="1545.1" y="1195.5" width="37.1" height="87.5" fill="#ff0000" stroke="#cdbfbf" stroke-width="1.3"/>
<rect x="1585.6" y="1128.4" width="37.1" height="154.6" fill="#ff0000" stroke="#cdbfbf" stroke-width="1.3"/>
<rect x="1626.2" y="992.1" width="37.1" height="290.9" fill="#ff0000" stroke="#cdbfbf" stroke-width="1.3"/>
<rect x="1666.7" y="916.3" width="37.1" height="366.7" fill="#ff0000" stroke="#cdbfbf" stroke-width="1.3"/>
<rect x="1707.2" y="890.1" width="37.1" height="392.9" fill="#ff0000" stroke="#cdbfbf" stroke-width="1.3"/>
<rect x="1747.8" y="917.3" width="37.1" height="365.7" fill="#ff0000" stroke="#cdbfbf" stroke-width="1.3"/>
<rect x="1788.3" y="1027.7" width="37.1" height="255.3" fill="#ff0000" stroke="#cdbfbf" stroke-width="1.3"/>
<rect x="1828.8" y="1035.1" width="37.1" height="247.9" fill="#ff0000" stroke="#cdbfbf" stroke-width="1.3"/>
<rect x="1869.4" y="1138" width="37.1" height="145" fill="#ff0000" stroke="#cdbfbf" stroke-width="1.3"/>
<rect x="1909.9" y="1194.3" width="37.1" height="88.7" fill="#ff0000" stroke="#cdbfbf" stroke-width="1.3"/>
<rect x="1950.4" y="1245.2" width="37.1" height="37.8" fill="#ff0000" stroke="#cdbfbf" stroke-width="1.3"/>
<rect x="1991" y="1273.1" width="37.1" height="9.9" fill="#ff0000" stroke="#cdbfbf" stroke-width="1.3"/>
<rect x="2031.5" y="1282.2" width="37.1" height="0.8" fill="#ff0000" stroke="#cdbfbf" stroke-width="1.3"/>
<polyline points="1462.3,1276.3 1466.1,1275.5 1469.9,1274.6 1473.7,1273.6 1477.5,1272.6 1481.3,1271.4 1485.1,1270.2 1488.9,1268.8 1492.7,1267.3 1496.5,1265.7 1500.3,1263.9 1504.1,1262 1507.9,1259.9 1511.7,1257.6 1515.5,1255.2 1519.3,1252.6 1523.1,1249.8 1526.9,1246.8 1530.7,1243.5 1534.5,1240.1 1538.3,1236.4 1542.1,1232.5 1545.9,1228.3 1549.7,1223.9 1553.5,1219.3 1557.3,1214.3 1561.1,1209.1 1564.9,1203.6 1568.7,1197.9 1572.5,1191.8 1576.3,1185.5 1580.1,1178.9 1583.9,1172.1 1587.7,1164.9 1591.5,1157.5 1595.3,1149.8 1599.1,1141.9 1602.9,1133.7 1606.7,1125.3 1610.5,1116.7 1614.3,1107.9 1618.1,1098.9 1621.9,1089.7 1625.7,1080.4 1629.5,1070.9 1633.3,1061.4 1637.1,1051.7 1640.9,1042 1644.7,1032.3 1648.5,1022.6 1652.3,1013 1656.1,1003.4 1659.9,993.9 1663.7,984.5 1667.5,975.3 1671.3,966.3 1675.1,957.6 1678.9,949.1 1682.7,940.9 1686.5,933 1690.3,925.5 1694.1,918.4 1697.9,911.7 1701.7,905.5 1705.5,899.8 1709.3,894.6 1713.1,889.9 1716.9,885.7 1720.7,882.1 1724.5,879.1 1728.3,876.7 1732.1,874.9 1735.9,873.7 1739.7,873.2 1743.5,873.3 1747.3,874 1751.1,875.3 1754.9,877.2 1758.7,879.7 1762.5,882.9 1766.3,886.6 1770.1,890.9 1773.9,895.7 1777.7,901 1781.5,906.9 1785.3,913.2 1789.1,920 1792.9,927.2 1796.7,934.8 1800.5,942.7 1804.3,951 1808.1,959.5 1811.9,968.3 1815.7,977.4 1819.5,986.6 1823.3,996 1827.1,1005.5 1830.9,1015.2 1834.7,1024.8 1838.5,1034.5 1842.3,1044.2 1846.1,1053.9 1849.9,1063.5 1853.7,1073.1 1857.5,1082.5 1861.3,1091.8 1865.1,1100.9 1868.9,1109.9 1872.7,1118.7 1876.5,1127.3 1880.3,1135.6 1884.1,1143.7 1887.9,1151.6 1891.7,1159.2 1895.5,1166.6 1899.3,1173.6 1903.1,1180.4 1906.9,1187 1910.7,1193.2 1914.5,1199.2 1918.3,1204.9 1922.1,1210.3 1925.9,1215.5 1929.7,1220.3 1933.5,1224.9 1937.3,1229.3 1941.1,1233.4 1944.9,1237.3 1948.7,1240.9 1952.5,1244.3 1956.3,1247.5 1960.1,1250.4 1963.9,1253.2 1967.7,1255.8 1971.5,1258.2 1975.3,1260.4 1979.1,1262.4 1982.9,1264.3 1986.7,1266 1990.5,1267.6 1994.3,1269.1 1998.1,1270.5 2001.9,1271.7 2005.7,1272.8 2009.5,1273.9 2013.3,1274.8 2017.1,1275.7 2020.9,1276.4 2024.7,1277.1 2028.5,1277.8 2032.3,1278.3 2036.1,1278.9 2039.9,1279.3 2043.7,1279.7 2047.5,1280.1 2051.3,1280.5 2055.1,1280.8 2058.9,1281 2062.7,1281.3 2066.5,1281.5 2070.3,1281.7" fill="none" stroke="#000" stroke-width="5" stroke-linejoin="round" stroke-linecap="round"/>
<polyline points="1462.3,1283 1482.6,1283 1523.1,1279.1 1563.6,1261.9 1604.2,1231.3 1644.7,1173.7 1685.2,1101 1725.8,1023.2 1766.3,950.8 1806.8,900.2 1847.4,851.1 1887.9,822.5 1928.4,804.9 1969,797.5 2009.5,795.6 2050,795.5" fill="none" stroke="#0000ff" stroke-width="5" stroke-linejoin="round"/>
<line x1="1460.1" y1="789.2" x2="2072.5" y2="789.2" stroke="#000" stroke-width="4.4" stroke-linecap="butt"/>
<line x1="1460.1" y1="1283" x2="2072.5" y2="1283" stroke="#000" stroke-width="4.4" stroke-linecap="butt"/>
<line x1="1462.3" y1="789.2" x2="1462.3" y2="1283" stroke="#000" stroke-width="4.4" stroke-linecap="butt"/>
<line x1="2070.3" y1="787" x2="2070.3" y2="1285.2" stroke="#0000ff" stroke-width="4.4" stroke-linecap="butt"/>
<line x1="1462.3" y1="1283" x2="1462.3" y2="1291.8" stroke="#000" stroke-width="4" stroke-linecap="butt"/>
<line x1="1462.3" y1="789.2" x2="1462.3" y2="797.7" stroke="#000" stroke-width="4" stroke-linecap="butt"/>
<line x1="1563.6" y1="1283" x2="1563.6" y2="1288.1" stroke="#000" stroke-width="3.4" stroke-linecap="butt"/>
<line x1="1563.6" y1="789.2" x2="1563.6" y2="794" stroke="#000" stroke-width="3.4" stroke-linecap="butt"/>
<line x1="1665" y1="1283" x2="1665" y2="1291.8" stroke="#000" stroke-width="4" stroke-linecap="butt"/>
<line x1="1665" y1="789.2" x2="1665" y2="797.7" stroke="#000" stroke-width="4" stroke-linecap="butt"/>
<line x1="1766.3" y1="1283" x2="1766.3" y2="1288.1" stroke="#000" stroke-width="3.4" stroke-linecap="butt"/>
<line x1="1766.3" y1="789.2" x2="1766.3" y2="794" stroke="#000" stroke-width="3.4" stroke-linecap="butt"/>
<line x1="1867.6" y1="1283" x2="1867.6" y2="1291.8" stroke="#000" stroke-width="4" stroke-linecap="butt"/>
<line x1="1867.6" y1="789.2" x2="1867.6" y2="797.7" stroke="#000" stroke-width="4" stroke-linecap="butt"/>
<line x1="1969" y1="1283" x2="1969" y2="1288.1" stroke="#000" stroke-width="3.4" stroke-linecap="butt"/>
<line x1="1969" y1="789.2" x2="1969" y2="794" stroke="#000" stroke-width="3.4" stroke-linecap="butt"/>
<line x1="2070.3" y1="1283" x2="2070.3" y2="1291.8" stroke="#000" stroke-width="4" stroke-linecap="butt"/>
<line x1="2070.3" y1="789.2" x2="2070.3" y2="797.7" stroke="#000" stroke-width="4" stroke-linecap="butt"/>
<line x1="1462.3" y1="1283" x2="1453.4" y2="1283" stroke="#000" stroke-width="4" stroke-linecap="butt"/>
<line x1="1462.3" y1="1221.3" x2="1457.1" y2="1221.3" stroke="#000" stroke-width="3.4" stroke-linecap="butt"/>
<line x1="1462.3" y1="1159.5" x2="1453.4" y2="1159.5" stroke="#000" stroke-width="4" stroke-linecap="butt"/>
<line x1="1462.3" y1="1097.8" x2="1457.1" y2="1097.8" stroke="#000" stroke-width="3.4" stroke-linecap="butt"/>
<line x1="1462.3" y1="1036.1" x2="1453.4" y2="1036.1" stroke="#000" stroke-width="4" stroke-linecap="butt"/>
<line x1="1462.3" y1="974.4" x2="1457.1" y2="974.4" stroke="#000" stroke-width="3.4" stroke-linecap="butt"/>
<line x1="1462.3" y1="912.7" x2="1453.4" y2="912.7" stroke="#000" stroke-width="4" stroke-linecap="butt"/>
<line x1="1462.3" y1="850.9" x2="1457.1" y2="850.9" stroke="#000" stroke-width="3.4" stroke-linecap="butt"/>
<line x1="1462.3" y1="789.2" x2="1453.4" y2="789.2" stroke="#000" stroke-width="4" stroke-linecap="butt"/>
<line x1="2070.3" y1="1283" x2="2079.7" y2="1283" stroke="#0000ff" stroke-width="4" stroke-linecap="butt"/>
<line x1="2070.3" y1="1234.2" x2="2076" y2="1234.2" stroke="#0000ff" stroke-width="3.2" stroke-linecap="butt"/>
<line x1="2070.3" y1="1185.5" x2="2079.7" y2="1185.5" stroke="#0000ff" stroke-width="4" stroke-linecap="butt"/>
<line x1="2070.3" y1="1136.8" x2="2076" y2="1136.8" stroke="#0000ff" stroke-width="3.2" stroke-linecap="butt"/>
<line x1="2070.3" y1="1088" x2="2079.7" y2="1088" stroke="#0000ff" stroke-width="4" stroke-linecap="butt"/>
<line x1="2070.3" y1="1039.2" x2="2076" y2="1039.2" stroke="#0000ff" stroke-width="3.2" stroke-linecap="butt"/>
<line x1="2070.3" y1="990.5" x2="2079.7" y2="990.5" stroke="#0000ff" stroke-width="4" stroke-linecap="butt"/>
<line x1="2070.3" y1="941.8" x2="2076" y2="941.8" stroke="#0000ff" stroke-width="3.2" stroke-linecap="butt"/>
<line x1="2070.3" y1="893" x2="2079.7" y2="893" stroke="#0000ff" stroke-width="4" stroke-linecap="butt"/>
<line x1="2070.3" y1="844.2" x2="2076" y2="844.2" stroke="#0000ff" stroke-width="3.2" stroke-linecap="butt"/>
<line x1="2070.3" y1="795.5" x2="2079.7" y2="795.5" stroke="#0000ff" stroke-width="4" stroke-linecap="butt"/>
<text font-size="39.5" text-anchor="middle" fill="#000" x="1462.3" y="1328.7" >35</text>
<text font-size="39.5" text-anchor="middle" fill="#000" x="1665" y="1328.7" >40</text>
<text font-size="39.5" text-anchor="middle" fill="#000" x="1867.6" y="1328.7" >45</text>
<text font-size="39.5" text-anchor="middle" fill="#000" x="2070.3" y="1328.7" >50</text>
<text font-size="39.5" text-anchor="end" fill="#000" x="1446.9" y="1294.9" >0</text>
<text font-size="39.5" text-anchor="end" fill="#000" x="1446.9" y="1171.5" >5</text>
<text font-size="39.5" text-anchor="end" fill="#000" x="1446.9" y="1048" >10</text>
<text font-size="39.5" text-anchor="end" fill="#000" x="1446.9" y="924.6" >15</text>
<text font-size="39.5" text-anchor="end" fill="#000" x="1446.9" y="801.1" >20</text>
<text font-size="39.5" text-anchor="start" fill="#0000ff" x="2084.1" y="1297" >0</text>
<text font-size="39.5" text-anchor="start" fill="#0000ff" x="2084.1" y="1199.5" >20</text>
<text font-size="39.5" text-anchor="start" fill="#0000ff" x="2084.1" y="1102" >40</text>
<text font-size="39.5" text-anchor="start" fill="#0000ff" x="2084.1" y="1004.5" >60</text>
<text font-size="39.5" text-anchor="start" fill="#0000ff" x="2084.1" y="907" >80</text>
<text font-size="39.5" text-anchor="start" fill="#0000ff" x="2084.1" y="806.2" >100</text>
<rect x="1483.7" y="819.2" width="85.4" height="41.3" fill="#ff0000"/>
<text font-size="39" text-anchor="start" fill="#000" x="1579.2" y="853.1" >120 s</text>
<text font-size="51.7" text-anchor="middle" fill="#000" x="1765.4" y="1376.9" >Temperature (°C)</text>
<text font-size="51.2" text-anchor="middle" fill="#000" x="1381" y="1035.6" transform="rotate(-90 1381 1035.6)" >Frequency (%)</text>
<text font-size="51.3" text-anchor="middle" fill="#0000ff" x="2193" y="1042.7" transform="rotate(90 2193 1042.7)" >Cumulative distribution</text>
<text font-size="51.5" text-anchor="middle" fill="#0000ff" x="2128.2" y="1036.7" transform="rotate(90 2128.2 1036.7)" >(%)</text>
<text font-size="125" text-anchor="start" fill="#000" x="0" y="0" transform="translate(2260.5 887) scale(1.0030 0.9790)" >b</text>
</g>
<g id="hist2">
<rect x="1516.1" y="1905.7" width="29.1" height="32.5" fill="#ff0000" stroke="#cdbfbf" stroke-width="1.3"/>
<rect x="1547.9" y="1843.9" width="29.1" height="94.3" fill="#ff0000" stroke="#cdbfbf" stroke-width="1.3"/>
<rect x="1579.8" y="1724.6" width="29.1" height="213.6" fill="#ff0000" stroke="#cdbfbf" stroke-width="1.3"/>
<rect x="1611.6" y="1573.8" width="29.1" height="364.4" fill="#ff0000" stroke="#cdbfbf" stroke-width="1.3"/>
<rect x="1643.5" y="1495.3" width="29.1" height="442.9" fill="#ff0000" stroke="#cdbfbf" stroke-width="1.3"/>
<rect x="1675.3" y="1493.6" width="29.1" height="444.6" fill="#ff0000" stroke="#cdbfbf" stroke-width="1.3"/>
<rect x="1707.2" y="1598.8" width="29.1" height="339.4" fill="#ff0000" stroke="#cdbfbf" stroke-width="1.3"/>
<rect x="1739" y="1623.4" width="29.1" height="314.8" fill="#ff0000" stroke="#cdbfbf" stroke-width="1.3"/>
<rect x="1770.9" y="1656.6" width="29.1" height="281.6" fill="#ff0000" stroke="#cdbfbf" stroke-width="1.3"/>
<rect x="1802.7" y="1674" width="29.1" height="264.2" fill="#ff0000" stroke="#cdbfbf" stroke-width="1.3"/>
<rect x="1834.6" y="1711.5" width="29.1" height="226.7" fill="#ff0000" stroke="#cdbfbf" stroke-width="1.3"/>
<rect x="1866.4" y="1780.5" width="29.1" height="157.7" fill="#ff0000" stroke="#cdbfbf" stroke-width="1.3"/>
<rect x="1898.3" y="1857.7" width="29.1" height="80.5" fill="#ff0000" stroke="#cdbfbf" stroke-width="1.3"/>
<rect x="1930.1" y="1914.2" width="29.1" height="24" fill="#ff0000" stroke="#cdbfbf" stroke-width="1.3"/>
<rect x="1962" y="1936.3" width="29.1" height="1.9" fill="#ff0000" stroke="#cdbfbf" stroke-width="1.3"/>
<rect x="1993.8" y="1937.6" width="29.1" height="0.6" fill="#ff0000" stroke="#cdbfbf" stroke-width="1.3"/>
<polyline points="1451,1931.8 1454.6,1931.1 1458.2,1930.3 1461.7,1929.3 1465.3,1928.3 1468.9,1927.2 1472.5,1926 1476.1,1924.7 1479.7,1923.2 1483.2,1921.7 1486.8,1920 1490.4,1918.1 1494,1916.1 1497.6,1913.9 1501.2,1911.5 1504.7,1909 1508.3,1906.2 1511.9,1903.3 1515.5,1900.1 1519.1,1896.7 1522.7,1893.1 1526.2,1889.2 1529.8,1885.1 1533.4,1880.7 1537,1876.1 1540.6,1871.2 1544.2,1866 1547.7,1860.5 1551.3,1854.7 1554.9,1848.6 1558.5,1842.2 1562.1,1835.5 1565.7,1828.6 1569.2,1821.3 1572.8,1813.7 1576.4,1805.8 1580,1797.7 1583.6,1789.2 1587.2,1780.5 1590.7,1771.5 1594.3,1762.3 1597.9,1752.9 1601.5,1743.2 1605.1,1733.3 1608.7,1723.3 1612.2,1713.1 1615.8,1702.8 1619.4,1692.4 1623,1681.8 1626.6,1671.3 1630.2,1660.7 1633.7,1650.1 1637.3,1639.6 1640.9,1629.2 1644.5,1618.9 1648.1,1608.7 1651.7,1598.7 1655.2,1588.9 1658.8,1579.4 1662.4,1570.2 1666,1561.3 1669.6,1552.7 1673.2,1544.6 1676.7,1536.9 1680.3,1529.6 1683.9,1522.8 1687.5,1516.6 1691.1,1510.9 1694.7,1505.8 1698.2,1501.3 1701.8,1497.3 1705.4,1494 1709,1491.4 1712.6,1489.4 1716.2,1488.1 1719.7,1487.4 1723.3,1487.5 1726.9,1488.2 1730.5,1489.5 1734.1,1491.6 1737.7,1494.2 1741.2,1497.6 1744.8,1501.5 1748.4,1506.1 1752,1511.3 1755.6,1517 1759.2,1523.3 1762.7,1530.1 1766.3,1537.4 1769.9,1545.1 1773.5,1553.3 1777.1,1561.8 1780.7,1570.8 1784.2,1580 1787.8,1589.5 1791.4,1599.3 1795,1609.3 1798.6,1619.5 1802.2,1629.9 1805.7,1640.3 1809.3,1650.8 1812.9,1661.4 1816.5,1672 1820.1,1682.5 1823.7,1693.1 1827.2,1703.5 1830.8,1713.8 1834.4,1724 1838,1734 1841.6,1743.9 1845.2,1753.5 1848.7,1762.9 1852.3,1772.1 1855.9,1781.1 1859.5,1789.8 1863.1,1798.2 1866.7,1806.4 1870.2,1814.2 1873.8,1821.8 1877.4,1829 1881,1836 1884.6,1842.7 1888.2,1849 1891.7,1855.1 1895.3,1860.8 1898.9,1866.3 1902.5,1871.5 1906.1,1876.4 1909.7,1881 1913.2,1885.4 1916.8,1889.5 1920.4,1893.3 1924,1897 1927.6,1900.3 1931.2,1903.5 1934.7,1906.4 1938.3,1909.1 1941.9,1911.7 1945.5,1914 1949.1,1916.2 1952.7,1918.2 1956.2,1920.1 1959.8,1921.8 1963.4,1923.3 1967,1924.8 1970.6,1926.1 1974.2,1927.3 1977.7,1928.4 1981.3,1929.4 1984.9,1930.3 1988.5,1931.1 1992.1,1931.9 1995.7,1932.6 1999.2,1933.2 2002.8,1933.7 2006.4,1934.2 2010,1934.7 2013.6,1935.1 2017.2,1935.4 2020.7,1935.8 2024.3,1936.1" fill="none" stroke="#000" stroke-width="5" stroke-linejoin="round" stroke-linecap="round"/>
<polyline points="1466.9,1938.2 1498.8,1938.2 1530.6,1933.4 1562.5,1919.4 1594.3,1887.5 1626.2,1833.2 1658,1767.1 1689.9,1700.8 1721.7,1650.1 1753.6,1603.2 1785.4,1561.2 1817.3,1521.8 1849.1,1488 1881,1464.5 1912.8,1452.5 1944.7,1449 1976.5,1448.7 2008.4,1448.7" fill="none" stroke="#0000ff" stroke-width="5" stroke-linejoin="round"/>
<line x1="1448.8" y1="1445.3" x2="2060.6" y2="1445.3" stroke="#000" stroke-width="4.4" stroke-linecap="butt"/>
<line x1="1448.8" y1="1938.2" x2="2060.6" y2="1938.2" stroke="#000" stroke-width="4.4" stroke-linecap="butt"/>
<line x1="1451" y1="1445.3" x2="1451" y2="1938.2" stroke="#000" stroke-width="4.4" stroke-linecap="butt"/>
<line x1="2058.4" y1="1443.1" x2="2058.4" y2="1940.4" stroke="#0000ff" stroke-width="4.4" stroke-linecap="butt"/>
<line x1="1514.7" y1="1938.2" x2="1514.7" y2="1947" stroke="#000" stroke-width="4" stroke-linecap="butt"/>
<line x1="1514.7" y1="1445.3" x2="1514.7" y2="1453.8" stroke="#000" stroke-width="4" stroke-linecap="butt"/>
<line x1="1594.3" y1="1938.2" x2="1594.3" y2="1943.3" stroke="#000" stroke-width="3.4" stroke-linecap="butt"/>
<line x1="1594.3" y1="1445.3" x2="1594.3" y2="1450.1" stroke="#000" stroke-width="3.4" stroke-linecap="butt"/>
<line x1="1674" y1="1938.2" x2="1674" y2="1947" stroke="#000" stroke-width="4" stroke-linecap="butt"/>
<line x1="1674" y1="1445.3" x2="1674" y2="1453.8" stroke="#000" stroke-width="4" stroke-linecap="butt"/>
<line x1="1753.6" y1="1938.2" x2="1753.6" y2="1943.3" stroke="#000" stroke-width="3.4" stroke-linecap="butt"/>
<line x1="1753.6" y1="1445.3" x2="1753.6" y2="1450.1" stroke="#000" stroke-width="3.4" stroke-linecap="butt"/>
<line x1="1833.2" y1="1938.2" x2="1833.2" y2="1947" stroke="#000" stroke-width="4" stroke-linecap="butt"/>
<line x1="1833.2" y1="1445.3" x2="1833.2" y2="1453.8" stroke="#000" stroke-width="4" stroke-linecap="butt"/>
<line x1="1912.8" y1="1938.2" x2="1912.8" y2="1943.3" stroke="#000" stroke-width="3.4" stroke-linecap="butt"/>
<line x1="1912.8" y1="1445.3" x2="1912.8" y2="1450.1" stroke="#000" stroke-width="3.4" stroke-linecap="butt"/>
<line x1="1992.5" y1="1938.2" x2="1992.5" y2="1947" stroke="#000" stroke-width="4" stroke-linecap="butt"/>
<line x1="1992.5" y1="1445.3" x2="1992.5" y2="1453.8" stroke="#000" stroke-width="4" stroke-linecap="butt"/>
<line x1="1451" y1="1938.2" x2="1442.1" y2="1938.2" stroke="#000" stroke-width="4" stroke-linecap="butt"/>
<line x1="1451" y1="1856" x2="1445.8" y2="1856" stroke="#000" stroke-width="3.4" stroke-linecap="butt"/>
<line x1="1451" y1="1773.9" x2="1442.1" y2="1773.9" stroke="#000" stroke-width="4" stroke-linecap="butt"/>
<line x1="1451" y1="1691.8" x2="1445.8" y2="1691.8" stroke="#000" stroke-width="3.4" stroke-linecap="butt"/>
<line x1="1451" y1="1609.6" x2="1442.1" y2="1609.6" stroke="#000" stroke-width="4" stroke-linecap="butt"/>
<line x1="1451" y1="1527.5" x2="1445.8" y2="1527.5" stroke="#000" stroke-width="3.4" stroke-linecap="butt"/>
<line x1="1451" y1="1445.3" x2="1442.1" y2="1445.3" stroke="#000" stroke-width="4" stroke-linecap="butt"/>
<line x1="2058.4" y1="1938.2" x2="2067.8" y2="1938.2" stroke="#0000ff" stroke-width="4" stroke-linecap="butt"/>
<line x1="2058.4" y1="1889.2" x2="2064.1" y2="1889.2" stroke="#0000ff" stroke-width="3.2" stroke-linecap="butt"/>
<line x1="2058.4" y1="1840.3" x2="2067.8" y2="1840.3" stroke="#0000ff" stroke-width="4" stroke-linecap="butt"/>
<line x1="2058.4" y1="1791.4" x2="2064.1" y2="1791.4" stroke="#0000ff" stroke-width="3.2" stroke-linecap="butt"/>
<line x1="2058.4" y1="1742.4" x2="2067.8" y2="1742.4" stroke="#0000ff" stroke-width="4" stroke-linecap="butt"/>
<line x1="2058.4" y1="1693.5" x2="2064.1" y2="1693.5" stroke="#0000ff" stroke-width="3.2" stroke-linecap="butt"/>
<line x1="2058.4" y1="1644.5" x2="2067.8" y2="1644.5" stroke="#0000ff" stroke-width="4" stroke-linecap="butt"/>
<line x1="2058.4" y1="1595.6" x2="2064.1" y2="1595.6" stroke="#0000ff" stroke-width="3.2" stroke-linecap="butt"/>
<line x1="2058.4" y1="1546.6" x2="2067.8" y2="1546.6" stroke="#0000ff" stroke-width="4" stroke-linecap="butt"/>
<line x1="2058.4" y1="1497.7" x2="2064.1" y2="1497.7" stroke="#0000ff" stroke-width="3.2" stroke-linecap="butt"/>
<line x1="2058.4" y1="1448.7" x2="2067.8" y2="1448.7" stroke="#0000ff" stroke-width="4" stroke-linecap="butt"/>
<text font-size="39.5" text-anchor="middle" fill="#000" x="1514.7" y="1983.9" >50</text>
<text font-size="39.5" text-anchor="middle" fill="#000" x="1674" y="1983.9" >55</text>
<text font-size="39.5" text-anchor="middle" fill="#000" x="1833.2" y="1983.9" >60</text>
<text font-size="39.5" text-anchor="middle" fill="#000" x="1992.5" y="1983.9" >65</text>
<text font-size="39.5" text-anchor="end" fill="#000" x="1435.6" y="1950.1" >0</text>
<text font-size="39.5" text-anchor="end" fill="#000" x="1435.6" y="1785.8" >5</text>
<text font-size="39.5" text-anchor="end" fill="#000" x="1435.6" y="1621.5" >10</text>
<text font-size="39.5" text-anchor="end" fill="#000" x="1435.6" y="1457.2" >15</text>
<text font-size="39.5" text-anchor="start" fill="#0000ff" x="2072.2" y="1952.2" >0</text>
<text font-size="39.5" text-anchor="start" fill="#0000ff" x="2072.2" y="1854.3" >20</text>
<text font-size="39.5" text-anchor="start" fill="#0000ff" x="2072.2" y="1756.4" >40</text>
<text font-size="39.5" text-anchor="start" fill="#0000ff" x="2072.2" y="1658.5" >60</text>
<text font-size="39.5" text-anchor="start" fill="#0000ff" x="2072.2" y="1560.6" >80</text>
<text font-size="39.5" text-anchor="start" fill="#0000ff" x="2072.2" y="1462.3" >100</text>
<rect x="1452.8" y="1475.1" width="85.4" height="41.3" fill="#ff0000"/>
<text font-size="39" text-anchor="start" fill="#000" x="1548.3" y="1509" >300 s</text>
<text font-size="51.7" text-anchor="middle" fill="#000" x="1753.8" y="2032.1" >Temperature (°C)</text>
<text font-size="51.2" text-anchor="middle" fill="#000" x="1369.7" y="1691.2" transform="rotate(-90 1369.7 1691.2)" >Frequency (%)</text>
<text font-size="51.3" text-anchor="middle" fill="#0000ff" x="2189.3" y="1698.8" transform="rotate(90 2189.3 1698.8)" >Cumulative distribution</text>
<text font-size="51.5" text-anchor="middle" fill="#0000ff" x="2124.5" y="1692.8" transform="rotate(90 2124.5 1692.8)" >(%)</text>
<text font-size="125" text-anchor="start" fill="#000" x="0" y="0" transform="translate(2253 1515.5) scale(0.9850 0.9900)" >c</text>
</g>
<g id="hist3">
<rect x="1519.4" y="2654.8" width="30.9" height="3.4" fill="#ff0000" stroke="#cdbfbf" stroke-width="1.3"/>
<rect x="1553.1" y="2636.9" width="30.9" height="21.3" fill="#ff0000" stroke="#cdbfbf" stroke-width="1.3"/>
<rect x="1586.9" y="2603.6" width="30.9" height="54.6" fill="#ff0000" stroke="#cdbfbf" stroke-width="1.3"/>
<rect x="1620.6" y="2550.2" width="30.9" height="108" fill="#ff0000" stroke="#cdbfbf" stroke-width="1.3"/>
<rect x="1654.4" y="2463.8" width="30.9" height="194.4" fill="#ff0000" stroke="#cdbfbf" stroke-width="1.3"/>
<rect x="1688.1" y="2326.5" width="30.9" height="331.7" fill="#ff0000" stroke="#cdbfbf" stroke-width="1.3"/>
<rect x="1721.8" y="2284.5" width="30.9" height="373.7" fill="#ff0000" stroke="#cdbfbf" stroke-width="1.3"/>
<rect x="1755.6" y="2255.2" width="30.9" height="403" fill="#ff0000" stroke="#cdbfbf" stroke-width="1.3"/>
<rect x="1789.3" y="2208.3" width="30.9" height="449.9" fill="#ff0000" stroke="#cdbfbf" stroke-width="1.3"/>
<rect x="1823" y="2295" width="30.9" height="363.2" fill="#ff0000" stroke="#cdbfbf" stroke-width="1.3"/>
<rect x="1856.8" y="2323.4" width="30.9" height="334.8" fill="#ff0000" stroke="#cdbfbf" stroke-width="1.3"/>
<rect x="1890.5" y="2430.8" width="30.9" height="227.4" fill="#ff0000" stroke="#cdbfbf" stroke-width="1.3"/>
<rect x="1924.3" y="2507.9" width="30.9" height="150.3" fill="#ff0000" stroke="#cdbfbf" stroke-width="1.3"/>
<rect x="1958" y="2607" width="30.9" height="51.2" fill="#ff0000" stroke="#cdbfbf" stroke-width="1.3"/>
<rect x="1991.7" y="2645.9" width="30.9" height="12.3" fill="#ff0000" stroke="#cdbfbf" stroke-width="1.3"/>
<rect x="2025.5" y="2657.3" width="30.9" height="0.9" fill="#ff0000" stroke="#cdbfbf" stroke-width="1.3"/>
<polyline points="1450.5,2657.9 1454.3,2657.8 1458.1,2657.8 1461.9,2657.7 1465.7,2657.6 1469.5,2657.5 1473.3,2657.4 1477.1,2657.2 1480.9,2657.1 1484.7,2656.9 1488.5,2656.7 1492.3,2656.5 1496,2656.2 1499.8,2655.9 1503.6,2655.6 1507.4,2655.2 1511.2,2654.7 1515,2654.2 1518.8,2653.7 1522.6,2653 1526.4,2652.3 1530.2,2651.5 1534,2650.7 1537.8,2649.7 1541.6,2648.6 1545.4,2647.4 1549.2,2646 1553,2644.5 1556.8,2642.9 1560.6,2641.1 1564.4,2639.1 1568.2,2636.9 1572,2634.5 1575.8,2631.9 1579.6,2629.1 1583.3,2626 1587.1,2622.6 1590.9,2619 1594.7,2615.1 1598.5,2610.9 1602.3,2606.4 1606.1,2601.5 1609.9,2596.3 1613.7,2590.8 1617.5,2584.9 1621.3,2578.6 1625.1,2571.9 1628.9,2564.9 1632.7,2557.5 1636.5,2549.7 1640.3,2541.5 1644.1,2532.9 1647.9,2523.9 1651.7,2514.6 1655.5,2504.8 1659.3,2494.8 1663.1,2484.4 1666.9,2473.6 1670.6,2462.6 1674.4,2451.3 1678.2,2439.8 1682,2428 1685.8,2416.1 1689.6,2404 1693.4,2391.7 1697.2,2379.5 1701,2367.2 1704.8,2354.9 1708.6,2342.7 1712.4,2330.6 1716.2,2318.6 1720,2306.9 1723.8,2295.5 1727.6,2284.3 1731.4,2273.6 1735.2,2263.3 1739,2253.4 1742.8,2244.1 1746.6,2235.3 1750.4,2227.2 1754.2,2219.7 1757.9,2212.9 1761.7,2206.8 1765.5,2201.5 1769.3,2197 1773.1,2193.3 1776.9,2190.4 1780.7,2188.4 1784.5,2187.3 1788.3,2187 1792.1,2187.7 1795.9,2189.1 1799.7,2191.5 1803.5,2194.7 1807.3,2198.7 1811.1,2203.5 1814.9,2209.1 1818.7,2215.5 1822.5,2222.6 1826.3,2230.3 1830.1,2238.7 1833.9,2247.7 1837.7,2257.3 1841.4,2267.3 1845.2,2277.8 1849,2288.8 1852.8,2300 1856.6,2311.6 1860.4,2323.4 1864.2,2335.4 1868,2347.5 1871.8,2359.8 1875.6,2372.1 1879.4,2384.4 1883.2,2396.6 1887,2408.8 1890.8,2420.9 1894.6,2432.7 1898.4,2444.4 1902.2,2455.9 1906,2467.1 1909.8,2478 1913.6,2488.6 1917.4,2498.8 1921.2,2508.8 1925,2518.3 1928.7,2527.5 1932.5,2536.4 1936.3,2544.8 1940.1,2552.8 1943.9,2560.5 1947.7,2567.8 1951.5,2574.6 1955.3,2581.1 1959.1,2587.3 1962.9,2593 1966.7,2598.4 1970.5,2603.5 1974.3,2608.2 1978.1,2612.6 1981.9,2616.7 1985.7,2620.5 1989.5,2624 1993.3,2627.2 1997.1,2630.2 2000.9,2633 2004.7,2635.5 2008.5,2637.8 2012.3,2639.9 2016,2641.8 2019.8,2643.6 2023.6,2645.1 2027.4,2646.6 2031.2,2647.9 2035,2649 2038.8,2650.1 2042.6,2651 2046.4,2651.9 2050.2,2652.6 2054,2653.3 2057.8,2653.9" fill="none" stroke="#000" stroke-width="5" stroke-linejoin="round" stroke-linecap="round"/>
<polyline points="1467.4,2658.2 1501.1,2658.2 1534.8,2657.7 1568.6,2654.4 1602.3,2645.7 1636.1,2628.6 1669.8,2597.8 1703.5,2545.1 1737.3,2485.8 1771,2421.8 1804.8,2350.3 1838.5,2292.7 1872.2,2239.5 1906,2203.4 1939.7,2179.6 1973.5,2171.5 2007.2,2169.6 2040.9,2169.5" fill="none" stroke="#0000ff" stroke-width="5" stroke-linejoin="round"/>
<line x1="1448.3" y1="2164.5" x2="2060" y2="2164.5" stroke="#000" stroke-width="4.4" stroke-linecap="butt"/>
<line x1="1448.3" y1="2658.2" x2="2060" y2="2658.2" stroke="#000" stroke-width="4.4" stroke-linecap="butt"/>
<line x1="1450.5" y1="2164.5" x2="1450.5" y2="2658.2" stroke="#000" stroke-width="4.4" stroke-linecap="butt"/>
<line x1="2057.8" y1="2162.3" x2="2057.8" y2="2660.4" stroke="#0000ff" stroke-width="4.4" stroke-linecap="butt"/>
<line x1="1467.4" y1="2658.2" x2="1467.4" y2="2663.3" stroke="#000" stroke-width="3.4" stroke-linecap="butt"/>
<line x1="1467.4" y1="2164.5" x2="1467.4" y2="2169.3" stroke="#000" stroke-width="3.4" stroke-linecap="butt"/>
<line x1="1551.7" y1="2658.2" x2="1551.7" y2="2667" stroke="#000" stroke-width="4" stroke-linecap="butt"/>
<line x1="1551.7" y1="2164.5" x2="1551.7" y2="2173" stroke="#000" stroke-width="4" stroke-linecap="butt"/>
<line x1="1636.1" y1="2658.2" x2="1636.1" y2="2663.3" stroke="#000" stroke-width="3.4" stroke-linecap="butt"/>
<line x1="1636.1" y1="2164.5" x2="1636.1" y2="2169.3" stroke="#000" stroke-width="3.4" stroke-linecap="butt"/>
<line x1="1720.4" y1="2658.2" x2="1720.4" y2="2667" stroke="#000" stroke-width="4" stroke-linecap="butt"/>
<line x1="1720.4" y1="2164.5" x2="1720.4" y2="2173" stroke="#000" stroke-width="4" stroke-linecap="butt"/>
<line x1="1804.8" y1="2658.2" x2="1804.8" y2="2663.3" stroke="#000" stroke-width="3.4" stroke-linecap="butt"/>
<line x1="1804.8" y1="2164.5" x2="1804.8" y2="2169.3" stroke="#000" stroke-width="3.4" stroke-linecap="butt"/>
<line x1="1889.1" y1="2658.2" x2="1889.1" y2="2667" stroke="#000" stroke-width="4" stroke-linecap="butt"/>
<line x1="1889.1" y1="2164.5" x2="1889.1" y2="2173" stroke="#000" stroke-width="4" stroke-linecap="butt"/>
<line x1="1973.5" y1="2658.2" x2="1973.5" y2="2663.3" stroke="#000" stroke-width="3.4" stroke-linecap="butt"/>
<line x1="1973.5" y1="2164.5" x2="1973.5" y2="2169.3" stroke="#000" stroke-width="3.4" stroke-linecap="butt"/>
<line x1="2057.8" y1="2658.2" x2="2057.8" y2="2667" stroke="#000" stroke-width="4" stroke-linecap="butt"/>
<line x1="2057.8" y1="2164.5" x2="2057.8" y2="2173" stroke="#000" stroke-width="4" stroke-linecap="butt"/>
<line x1="1450.5" y1="2658.2" x2="1441.6" y2="2658.2" stroke="#000" stroke-width="4" stroke-linecap="butt"/>
<line x1="1450.5" y1="2581.1" x2="1445.3" y2="2581.1" stroke="#000" stroke-width="3.4" stroke-linecap="butt"/>
<line x1="1450.5" y1="2503.9" x2="1441.6" y2="2503.9" stroke="#000" stroke-width="4" stroke-linecap="butt"/>
<line x1="1450.5" y1="2426.8" x2="1445.3" y2="2426.8" stroke="#000" stroke-width="3.4" stroke-linecap="butt"/>
<line x1="1450.5" y1="2349.6" x2="1441.6" y2="2349.6" stroke="#000" stroke-width="4" stroke-linecap="butt"/>
<line x1="1450.5" y1="2272.5" x2="1445.3" y2="2272.5" stroke="#000" stroke-width="3.4" stroke-linecap="butt"/>
<line x1="1450.5" y1="2195.4" x2="1441.6" y2="2195.4" stroke="#000" stroke-width="4" stroke-linecap="butt"/>
<line x1="2057.8" y1="2658.2" x2="2067.2" y2="2658.2" stroke="#0000ff" stroke-width="4" stroke-linecap="butt"/>
<line x1="2057.8" y1="2609.3" x2="2063.5" y2="2609.3" stroke="#0000ff" stroke-width="3.2" stroke-linecap="butt"/>
<line x1="2057.8" y1="2560.5" x2="2067.2" y2="2560.5" stroke="#0000ff" stroke-width="4" stroke-linecap="butt"/>
<line x1="2057.8" y1="2511.6" x2="2063.5" y2="2511.6" stroke="#0000ff" stroke-width="3.2" stroke-linecap="butt"/>
<line x1="2057.8" y1="2462.7" x2="2067.2" y2="2462.7" stroke="#0000ff" stroke-width="4" stroke-linecap="butt"/>
<line x1="2057.8" y1="2413.8" x2="2063.5" y2="2413.8" stroke="#0000ff" stroke-width="3.2" stroke-linecap="butt"/>
<line x1="2057.8" y1="2365" x2="2067.2" y2="2365" stroke="#0000ff" stroke-width="4" stroke-linecap="butt"/>
<line x1="2057.8" y1="2316.1" x2="2063.5" y2="2316.1" stroke="#0000ff" stroke-width="3.2" stroke-linecap="butt"/>
<line x1="2057.8" y1="2267.2" x2="2067.2" y2="2267.2" stroke="#0000ff" stroke-width="4" stroke-linecap="butt"/>
<line x1="2057.8" y1="2218.4" x2="2063.5" y2="2218.4" stroke="#0000ff" stroke-width="3.2" stroke-linecap="butt"/>
<line x1="2057.8" y1="2169.5" x2="2067.2" y2="2169.5" stroke="#0000ff" stroke-width="4" stroke-linecap="butt"/>
<text font-size="39.5" text-anchor="middle" fill="#000" x="1551.7" y="2703.9" >60</text>
<text font-size="39.5" text-anchor="middle" fill="#000" x="1720.4" y="2703.9" >65</text>
<text font-size="39.5" text-anchor="middle" fill="#000" x="1889.1" y="2703.9" >70</text>
<text font-size="39.5" text-anchor="middle" fill="#000" x="2057.8" y="2703.9" >75</text>
<text font-size="39.5" text-anchor="end" fill="#000" x="1435.1" y="2670.1" >0</text>
<text font-size="39.5" text-anchor="end" fill="#000" x="1435.1" y="2515.8" >5</text>
<text font-size="39.5" text-anchor="end" fill="#000" x="1435.1" y="2361.5" >10</text>
<text font-size="39.5" text-anchor="end" fill="#000" x="1435.1" y="2207.3" >15</text>
<text font-size="39.5" text-anchor="start" fill="#0000ff" x="2071.6" y="2672.2" >0</text>
<text font-size="39.5" text-anchor="start" fill="#0000ff" x="2071.6" y="2574.5" >20</text>
<text font-size="39.5" text-anchor="start" fill="#0000ff" x="2071.6" y="2476.7" >40</text>
<text font-size="39.5" text-anchor="start" fill="#0000ff" x="2071.6" y="2379" >60</text>
<text font-size="39.5" text-anchor="start" fill="#0000ff" x="2071.6" y="2281.2" >80</text>
<text font-size="39.5" text-anchor="start" fill="#0000ff" x="2071.6" y="2181.5" >100</text>
<rect x="1452.8" y="2194.5" width="85.4" height="41.3" fill="#ff0000"/>
<text font-size="39" text-anchor="start" fill="#000" x="1548.3" y="2228.4" >600 s</text>
<text font-size="51.7" text-anchor="middle" fill="#000" x="1753.2" y="2752.1" >Temperature (°C)</text>
<text font-size="51.2" text-anchor="middle" fill="#000" x="1369.2" y="2410.8" transform="rotate(-90 1369.2 2410.8)" >Frequency (%)</text>
<text font-size="51.3" text-anchor="middle" fill="#0000ff" x="2186.7" y="2418" transform="rotate(90 2186.7 2418)" >Cumulative distribution</text>
<text font-size="51.5" text-anchor="middle" fill="#0000ff" x="2121.9" y="2412" transform="rotate(90 2121.9 2412)" >(%)</text>
<text font-size="125" text-anchor="start" fill="#000" x="0" y="0" transform="translate(2260.4 2255.8) scale(0.9970 0.9780)" >d</text>
</g>
<g id="hist4">
<rect x="1542.9" y="3312" width="27.8" height="3.4" fill="#ff0000" stroke="#cdbfbf" stroke-width="1.3"/>
<rect x="1573.2" y="3298.4" width="27.8" height="17" fill="#ff0000" stroke="#cdbfbf" stroke-width="1.3"/>
<rect x="1603.6" y="3273.1" width="27.8" height="42.3" fill="#ff0000" stroke="#cdbfbf" stroke-width="1.3"/>
<rect x="1634" y="3231.7" width="27.8" height="83.7" fill="#ff0000" stroke="#cdbfbf" stroke-width="1.3"/>
<rect x="1664.3" y="3167.1" width="27.8" height="148.3" fill="#ff0000" stroke="#cdbfbf" stroke-width="1.3"/>
<rect x="1694.7" y="3077.4" width="27.8" height="238" fill="#ff0000" stroke="#cdbfbf" stroke-width="1.3"/>
<rect x="1725.1" y="2942.4" width="27.8" height="373" fill="#ff0000" stroke="#cdbfbf" stroke-width="1.3"/>
<rect x="1755.4" y="2927.2" width="27.8" height="388.2" fill="#ff0000" stroke="#cdbfbf" stroke-width="1.3"/>
<rect x="1785.8" y="2904.4" width="27.8" height="411" fill="#ff0000" stroke="#cdbfbf" stroke-width="1.3"/>
<rect x="1816.2" y="2867" width="27.8" height="448.4" fill="#ff0000" stroke="#cdbfbf" stroke-width="1.3"/>
<rect x="1846.5" y="2960.6" width="27.8" height="354.8" fill="#ff0000" stroke="#cdbfbf" stroke-width="1.3"/>
<rect x="1876.9" y="3017.5" width="27.8" height="297.9" fill="#ff0000" stroke="#cdbfbf" stroke-width="1.3"/>
<rect x="1907.3" y="3147" width="27.8" height="168.4" fill="#ff0000" stroke="#cdbfbf" stroke-width="1.3"/>
<rect x="1937.6" y="3232.9" width="27.8" height="82.5" fill="#ff0000" stroke="#cdbfbf" stroke-width="1.3"/>
<rect x="1968" y="3297.5" width="27.8" height="17.9" fill="#ff0000" stroke="#cdbfbf" stroke-width="1.3"/>
<rect x="1998.4" y="3313.6" width="27.8" height="1.8" fill="#ff0000" stroke="#cdbfbf" stroke-width="1.3"/>
<polyline points="1480.9,3315.2 1484.3,3315.2 1487.7,3315.2 1491.1,3315.1 1494.5,3315.1 1497.9,3315 1501.4,3314.9 1504.8,3314.9 1508.2,3314.8 1511.6,3314.7 1515,3314.6 1518.4,3314.4 1521.9,3314.3 1525.3,3314.1 1528.7,3313.9 1532.1,3313.6 1535.5,3313.4 1538.9,3313 1542.4,3312.7 1545.8,3312.3 1549.2,3311.8 1552.6,3311.3 1556,3310.8 1559.4,3310.1 1562.9,3309.4 1566.3,3308.6 1569.7,3307.7 1573.1,3306.7 1576.5,3305.6 1579.9,3304.4 1583.3,3303 1586.8,3301.5 1590.2,3299.8 1593.6,3298 1597,3296 1600.4,3293.8 1603.8,3291.4 1607.3,3288.7 1610.7,3285.9 1614.1,3282.8 1617.5,3279.4 1620.9,3275.8 1624.3,3271.8 1627.8,3267.6 1631.2,3263 1634.6,3258.2 1638,3252.9 1641.4,3247.4 1644.8,3241.5 1648.3,3235.2 1651.7,3228.5 1655.1,3221.4 1658.5,3214 1661.9,3206.2 1665.3,3198 1668.7,3189.4 1672.2,3180.4 1675.6,3171.1 1679,3161.4 1682.4,3151.3 1685.8,3140.9 1689.2,3130.2 1692.7,3119.2 1696.1,3107.9 1699.5,3096.4 1702.9,3084.7 1706.3,3072.8 1709.7,3060.7 1713.2,3048.6 1716.6,3036.4 1720,3024.1 1723.4,3011.9 1726.8,2999.7 1730.2,2987.7 1733.7,2975.8 1737.1,2964.2 1740.5,2952.8 1743.9,2941.7 1747.3,2931 1750.7,2920.7 1754.2,2910.9 1757.6,2901.7 1761,2893 1764.4,2884.9 1767.8,2877.4 1771.2,2870.7 1774.6,2864.6 1778.1,2859.4 1781.5,2854.9 1784.9,2851.2 1788.3,2848.4 1791.7,2846.4 1795.1,2845.3 1798.6,2845 1802,2845.6 1805.4,2847.1 1808.8,2849.4 1812.2,2852.6 1815.6,2856.6 1819.1,2861.4 1822.5,2867 1825.9,2873.3 1829.3,2880.3 1832.7,2888 1836.1,2896.4 1839.6,2905.3 1843,2914.8 1846.4,2924.8 1849.8,2935.2 1853.2,2946.1 1856.6,2957.3 1860,2968.8 1863.5,2980.5 1866.9,2992.5 1870.3,3004.6 1873.7,3016.8 1877.1,3029 1880.5,3041.2 1884,3053.5 1887.4,3065.6 1890.8,3077.6 1894.2,3089.4 1897.6,3101.1 1901,3112.5 1904.5,3123.7 1907.9,3134.5 1911.3,3145.1 1914.7,3155.4 1918.1,3165.3 1921.5,3174.9 1925,3184.1 1928.4,3192.9 1931.8,3201.3 1935.2,3209.4 1938.6,3217 1942,3224.3 1945.4,3231.2 1948.9,3237.7 1952.3,3243.9 1955.7,3249.6 1959.1,3255.1 1962.5,3260.2 1965.9,3264.9 1969.4,3269.3 1972.8,3273.4 1976.2,3277.2 1979.6,3280.8 1983,3284 1986.4,3287.1 1989.9,3289.8 1993.3,3292.4 1996.7,3294.7 2000.1,3296.8 2003.5,3298.7 2006.9,3300.5 2010.4,3302.1 2013.8,3303.6 2017.2,3304.9 2020.6,3306.1 2024,3307.1 2027.4,3308.1" fill="none" stroke="#000" stroke-width="5" stroke-linejoin="round" stroke-linecap="round"/>
<polyline points="1496,3315.4 1526.4,3315.4 1556.8,3314.9 1587.1,3312.2 1617.5,3305.6 1647.9,3292.3 1678.2,3268.7 1708.6,3230.8 1739,3171.4 1769.3,3109.6 1799.7,3044.2 1830.1,2972.8 1860.4,2916.3 1890.8,2868.8 1921.2,2842.1 1951.5,2829 1981.9,2826.1 2012.3,2825.9" fill="none" stroke="#0000ff" stroke-width="5" stroke-linejoin="round"/>
<line x1="1448.3" y1="2820.9" x2="2060" y2="2820.9" stroke="#000" stroke-width="4.4" stroke-linecap="butt"/>
<line x1="1448.3" y1="3315.4" x2="2060" y2="3315.4" stroke="#000" stroke-width="4.4" stroke-linecap="butt"/>
<line x1="1450.5" y1="2820.9" x2="1450.5" y2="3315.4" stroke="#000" stroke-width="4.4" stroke-linecap="butt"/>
<line x1="2057.8" y1="2818.7" x2="2057.8" y2="3317.6" stroke="#0000ff" stroke-width="4.4" stroke-linecap="butt"/>
<line x1="1450.5" y1="3315.4" x2="1450.5" y2="3324.2" stroke="#000" stroke-width="4" stroke-linecap="butt"/>
<line x1="1450.5" y1="2820.9" x2="1450.5" y2="2829.4" stroke="#000" stroke-width="4" stroke-linecap="butt"/>
<line x1="1526.4" y1="3315.4" x2="1526.4" y2="3320.5" stroke="#000" stroke-width="3.4" stroke-linecap="butt"/>
<line x1="1526.4" y1="2820.9" x2="1526.4" y2="2825.7" stroke="#000" stroke-width="3.4" stroke-linecap="butt"/>
<line x1="1602.3" y1="3315.4" x2="1602.3" y2="3324.2" stroke="#000" stroke-width="4" stroke-linecap="butt"/>
<line x1="1602.3" y1="2820.9" x2="1602.3" y2="2829.4" stroke="#000" stroke-width="4" stroke-linecap="butt"/>
<line x1="1678.2" y1="3315.4" x2="1678.2" y2="3320.5" stroke="#000" stroke-width="3.4" stroke-linecap="butt"/>
<line x1="1678.2" y1="2820.9" x2="1678.2" y2="2825.7" stroke="#000" stroke-width="3.4" stroke-linecap="butt"/>
<line x1="1754.2" y1="3315.4" x2="1754.2" y2="3324.2" stroke="#000" stroke-width="4" stroke-linecap="butt"/>
<line x1="1754.2" y1="2820.9" x2="1754.2" y2="2829.4" stroke="#000" stroke-width="4" stroke-linecap="butt"/>
<line x1="1830.1" y1="3315.4" x2="1830.1" y2="3320.5" stroke="#000" stroke-width="3.4" stroke-linecap="butt"/>
<line x1="1830.1" y1="2820.9" x2="1830.1" y2="2825.7" stroke="#000" stroke-width="3.4" stroke-linecap="butt"/>
<line x1="1906" y1="3315.4" x2="1906" y2="3324.2" stroke="#000" stroke-width="4" stroke-linecap="butt"/>
<line x1="1906" y1="2820.9" x2="1906" y2="2829.4" stroke="#000" stroke-width="4" stroke-linecap="butt"/>
<line x1="1981.9" y1="3315.4" x2="1981.9" y2="3320.5" stroke="#000" stroke-width="3.4" stroke-linecap="butt"/>
<line x1="1981.9" y1="2820.9" x2="1981.9" y2="2825.7" stroke="#000" stroke-width="3.4" stroke-linecap="butt"/>
<line x1="2057.8" y1="3315.4" x2="2057.8" y2="3324.2" stroke="#000" stroke-width="4" stroke-linecap="butt"/>
<line x1="2057.8" y1="2820.9" x2="2057.8" y2="2829.4" stroke="#000" stroke-width="4" stroke-linecap="butt"/>
<line x1="1450.5" y1="3315.4" x2="1441.6" y2="3315.4" stroke="#000" stroke-width="4" stroke-linecap="butt"/>
<line x1="1450.5" y1="3238.1" x2="1445.3" y2="3238.1" stroke="#000" stroke-width="3.4" stroke-linecap="butt"/>
<line x1="1450.5" y1="3160.9" x2="1441.6" y2="3160.9" stroke="#000" stroke-width="4" stroke-linecap="butt"/>
<line x1="1450.5" y1="3083.6" x2="1445.3" y2="3083.6" stroke="#000" stroke-width="3.4" stroke-linecap="butt"/>
<line x1="1450.5" y1="3006.3" x2="1441.6" y2="3006.3" stroke="#000" stroke-width="4" stroke-linecap="butt"/>
<line x1="1450.5" y1="2929.1" x2="1445.3" y2="2929.1" stroke="#000" stroke-width="3.4" stroke-linecap="butt"/>
<line x1="1450.5" y1="2851.8" x2="1441.6" y2="2851.8" stroke="#000" stroke-width="4" stroke-linecap="butt"/>
<line x1="2057.8" y1="3315.4" x2="2067.2" y2="3315.4" stroke="#0000ff" stroke-width="4" stroke-linecap="butt"/>
<line x1="2057.8" y1="3266.5" x2="2063.5" y2="3266.5" stroke="#0000ff" stroke-width="3.2" stroke-linecap="butt"/>
<line x1="2057.8" y1="3217.5" x2="2067.2" y2="3217.5" stroke="#0000ff" stroke-width="4" stroke-linecap="butt"/>
<line x1="2057.8" y1="3168.6" x2="2063.5" y2="3168.6" stroke="#0000ff" stroke-width="3.2" stroke-linecap="butt"/>
<line x1="2057.8" y1="3119.6" x2="2067.2" y2="3119.6" stroke="#0000ff" stroke-width="4" stroke-linecap="butt"/>
<line x1="2057.8" y1="3070.7" x2="2063.5" y2="3070.7" stroke="#0000ff" stroke-width="3.2" stroke-linecap="butt"/>
<line x1="2057.8" y1="3021.7" x2="2067.2" y2="3021.7" stroke="#0000ff" stroke-width="4" stroke-linecap="butt"/>
<line x1="2057.8" y1="2972.8" x2="2063.5" y2="2972.8" stroke="#0000ff" stroke-width="3.2" stroke-linecap="butt"/>
<line x1="2057.8" y1="2923.8" x2="2067.2" y2="2923.8" stroke="#0000ff" stroke-width="4" stroke-linecap="butt"/>
<line x1="2057.8" y1="2874.9" x2="2063.5" y2="2874.9" stroke="#0000ff" stroke-width="3.2" stroke-linecap="butt"/>
<line x1="2057.8" y1="2825.9" x2="2067.2" y2="2825.9" stroke="#0000ff" stroke-width="4" stroke-linecap="butt"/>
<text font-size="39.5" text-anchor="middle" fill="#000" x="1450.5" y="3361.1" >55</text>
<text font-size="39.5" text-anchor="middle" fill="#000" x="1602.3" y="3361.1" >60</text>
<text font-size="39.5" text-anchor="middle" fill="#000" x="1754.2" y="3361.1" >65</text>
<text font-size="39.5" text-anchor="middle" fill="#000" x="1906" y="3361.1" >70</text>
<text font-size="39.5" text-anchor="middle" fill="#000" x="2057.8" y="3361.1" >75</text>
<text font-size="39.5" text-anchor="end" fill="#000" x="1435.1" y="3327.3" >0</text>
<text font-size="39.5" text-anchor="end" fill="#000" x="1435.1" y="3172.8" >5</text>
<text font-size="39.5" text-anchor="end" fill="#000" x="1435.1" y="3018.2" >10</text>
<text font-size="39.5" text-anchor="end" fill="#000" x="1435.1" y="2863.7" >15</text>
<text font-size="39.5" text-anchor="start" fill="#0000ff" x="2071.6" y="3329.4" >0</text>
<text font-size="39.5" text-anchor="start" fill="#0000ff" x="2071.6" y="3231.5" >20</text>
<text font-size="39.5" text-anchor="start" fill="#0000ff" x="2071.6" y="3133.6" >40</text>
<text font-size="39.5" text-anchor="start" fill="#0000ff" x="2071.6" y="3035.7" >60</text>
<text font-size="39.5" text-anchor="start" fill="#0000ff" x="2071.6" y="2937.8" >80</text>
<text font-size="39.5" text-anchor="start" fill="#0000ff" x="2071.6" y="2837.9" >100</text>
<rect x="1452.8" y="2850.9" width="85.4" height="41.3" fill="#ff0000"/>
<text font-size="39" text-anchor="start" fill="#000" x="1548.3" y="2884.8" >3600 s</text>
<text font-size="51.7" text-anchor="middle" fill="#000" x="1753.2" y="3409.3" >Temperature (°C)</text>
<text font-size="51.2" text-anchor="middle" fill="#000" x="1369.2" y="3067.7" transform="rotate(-90 1369.2 3067.7)" >Frequency (%)</text>
<text font-size="51.3" text-anchor="middle" fill="#0000ff" x="2186.7" y="3074.4" transform="rotate(90 2186.7 3074.4)" >Cumulative distribution</text>
<text font-size="51.5" text-anchor="middle" fill="#0000ff" x="2121.9" y="3068.4" transform="rotate(90 2121.9 3068.4)" >(%)</text>
<text font-size="125" text-anchor="start" fill="#000" x="0" y="0" transform="translate(2251.3 2893.2) scale(0.9950 0.9820)" >e</text>
</g>
</svg></body></html>
